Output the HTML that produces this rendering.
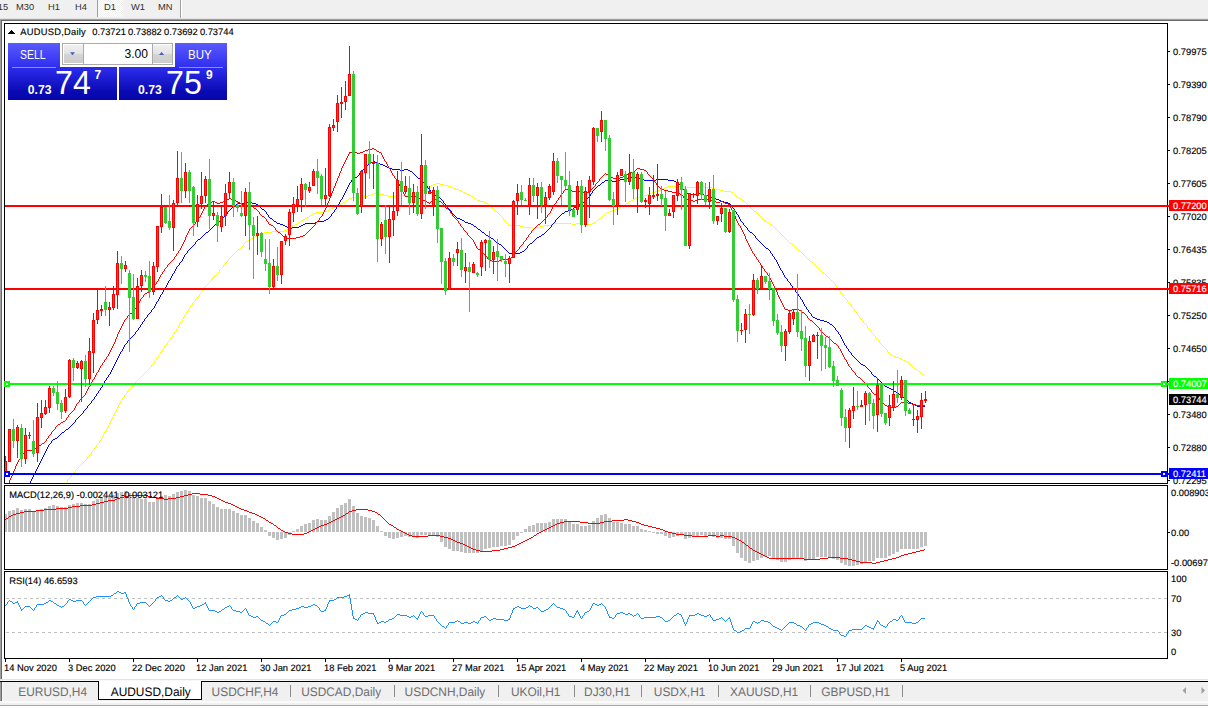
<!DOCTYPE html>
<html><head><meta charset="utf-8">
<style>
html,body{margin:0;padding:0;}
body{width:1208px;height:709px;overflow:hidden;background:#fff;position:relative;font-family:"Liberation Sans",sans-serif;}
.abs{position:absolute;}
#toolbar{left:0;top:0;width:1208px;height:19px;background:#f0f0f0;}
#toolbar span{position:absolute;top:2px;font-size:9.33px;line-height:11px;color:#303030;white-space:nowrap;}
#chartsvg{left:0;top:0;}
svg text{font-family:"Liberation Sans",sans-serif;font-size:9.33px;fill:#000;text-rendering:geometricPrecision;stroke:#000;stroke-width:0.15px;paint-order:stroke;}
.tab{position:absolute;top:684.5px;height:14px;font-size:12.4px;line-height:14px;color:#6e6e6e;white-space:nowrap;transform:scaleX(0.96);text-rendering:geometricPrecision;}
.sep{position:absolute;top:685px;width:1px;height:12px;background:#8c8c8c;}
.obtn{position:absolute;color:#fff;}
</style></head><body>
<div id="toolbar" class="abs">
<span style="left:-10px">M15</span><span style="left:16px">M30</span><span style="left:48px">H1</span><span style="left:75px">H4</span>
<div class="abs" style="left:97px;top:0;width:1px;height:17px;background:#a0a0a0"></div>
<div class="abs" style="left:98px;top:0;width:25px;height:17px;background:repeating-conic-gradient(#ffffff 0 25%,#f0f0f0 0 50%) 0 0/2px 2px"></div>
<span style="left:104px">D1</span><span style="left:131px">W1</span><span style="left:158px">MN</span>
<div class="abs" style="left:180px;top:0;width:1px;height:19px;background:#a0a0a0"></div>
<div class="abs" style="left:181px;top:0;width:1px;height:19px;background:#ffffff"></div>
</div>
<div class="abs" style="left:0;top:18px;width:1208px;height:1px;background:#e3e3e3"></div>
<div class="abs" style="left:0;top:19px;width:1208px;height:1px;background:#a0a0a0"></div>
<div class="abs" style="left:0;top:20px;width:1208px;height:1px;background:#696969"></div>
<div class="abs" style="left:0;top:19px;width:1px;height:660px;background:#a0a0a0"></div>
<div class="abs" style="left:1px;top:20px;width:1px;height:659px;background:#696969"></div>

<svg id="chartsvg" class="abs" width="1208" height="709" viewBox="0 0 1208 709">
<g shape-rendering="crispEdges">
<path transform="translate(0,.5)" d="M436 183h4M433 184h3M440 184h4M431 185h2M444 185h4M429 186h2M448 186h3M668 186h16M700 186h4M428 187h1M451 187h2M665 187h3M684 187h16M704 187h8M426 188h2M453 188h3M663 188h2M712 188h4M424 189h2M456 189h3M660 189h3M716 189h4M421 190h3M459 190h2M657 190h3M720 190h4M420 191h1M461 191h2M655 191h2M724 191h7M418 192h2M463 192h2M652 192h3M731 192h2M373 193h3M412 193h6M465 193h2M649 193h3M733 193h1M371 194h2M376 194h8M408 194h4M467 194h2M647 194h2M734 194h1M368 195h3M384 195h4M396 195h12M469 195h2M644 195h3M735 195h1M364 196h4M388 196h8M471 196h2M640 196h4M736 196h1M352 197h12M473 197h1M637 197h3M737 197h2M349 198h3M474 198h2M635 198h2M739 198h2M348 199h1M476 199h1M633 199h2M741 199h1M346 200h2M477 200h3M631 200h2M742 200h2M345 201h1M480 201h4M629 201h2M744 201h1M343 202h2M484 202h2M628 202h1M745 202h1M341 203h2M486 203h2M626 203h2M746 203h1M339 204h2M488 204h1M625 204h1M747 204h1M337 205h2M489 205h1M623 205h2M748 205h1M335 206h2M490 206h1M621 206h2M749 206h1M333 207h2M491 207h1M619 207h2M750 207h1M331 208h2M492 208h1M617 208h2M751 208h1M329 209h2M493 209h1M615 209h2M752 209h1M327 210h2M494 210h2M612 210h3M753 210h1M324 211h3M496 211h1M609 211h3M754 211h2M316 212h8M497 212h1M607 212h2M756 212h1M313 213h3M498 213h1M605 213h2M757 213h1M312 214h1M499 214h1M604 214h1M758 214h1M310 215h2M500 215h1M603 215h1M759 215h1M309 216h1M501 216h1M602 216h1M760 216h1M307 217h2M502 217h1M601 217h1M761 217h1M305 218h2M503 218h1M600 218h1M762 218h1M303 219h2M503 219h1M598 219h2M763 219h1M301 220h2M504 220h1M597 220h1M764 220h1M300 221h1M505 221h1M596 221h1M765 221h2M298 222h2M506 222h1M594 222h2M767 222h2M297 223h1M507 223h1M553 223h19M576 223h4M592 223h2M769 223h1M295 224h2M508 224h1M551 224h2M572 224h4M580 224h12M770 224h2M293 225h2M509 225h11M544 225h7M772 225h1M292 226h1M520 226h4M540 226h4M773 226h1M290 227h2M524 227h8M536 227h4M774 227h1M289 228h1M532 228h4M775 228h1M287 229h2M776 229h1M284 230h3M777 230h1M272 231h12M778 231h1M264 232h8M779 232h1M261 233h3M780 233h1M259 234h2M781 234h1M257 235h2M782 235h1M255 236h2M783 236h1M253 237h2M784 237h1M251 238h2M785 238h1M249 239h2M786 239h1M248 240h1M787 240h1M246 241h2M788 241h1M245 242h1M789 242h1M244 243h1M790 243h2M243 244h1M792 244h1M243 245h1M793 245h1M242 246h1M794 246h1M241 247h1M795 247h1M240 248h1M796 248h1M238 249h2M797 249h1M237 250h1M798 250h2M236 251h1M800 251h1M235 252h1M801 252h1M234 253h1M802 253h1M233 254h1M803 254h1M232 255h1M804 255h1M231 256h1M805 256h1M230 257h1M806 257h1M229 258h1M807 258h1M228 259h1M808 259h1M227 260h1M809 260h1M227 261h1M810 261h2M226 262h1M812 262h1M225 263h1M813 263h1M224 264h1M814 264h1M223 265h1M815 265h1M223 266h1M816 266h1M222 267h1M817 267h1M221 268h1M818 268h1M220 269h1M819 269h1M219 270h1M820 270h1M219 271h1M821 271h1M218 272h1M822 272h2M217 273h1M824 273h1M216 274h1M825 274h1M215 275h1M826 275h1M214 276h1M827 276h1M213 277h1M828 277h1M212 278h1M829 278h1M211 279h1M830 279h1M211 280h1M831 280h1M210 281h1M832 281h1M209 282h1M833 282h1M208 283h1M834 283h1M207 284h1M835 284h1M206 285h1M835 285h1M205 286h1M836 286h1M204 287h1M837 287h1M204 288h1M838 288h1M203 289h1M838 289h1M202 290h1M839 290h1M202 291h1M840 291h1M201 292h1M840 292h1M200 293h1M841 293h1M199 294h1M842 294h1M199 295h1M843 295h1M198 296h1M843 296h1M197 297h1M844 297h1M196 298h1M845 298h1M195 299h1M846 299h1M195 300h1M847 300h1M194 301h1M847 301h1M193 302h1M848 302h1M192 303h1M849 303h1M192 304h1M850 304h1M191 305h1M851 305h1M190 306h1M851 306h1M190 307h1M852 307h1M189 308h1M853 308h1M188 309h1M854 309h1M188 310h1M854 310h1M187 311h1M855 311h1M186 312h1M856 312h1M186 313h1M856 313h1M185 314h1M857 314h1M184 315h1M858 315h1M184 316h1M859 316h1M183 317h1M859 317h1M183 318h1M860 318h1M182 319h1M861 319h1M182 320h1M862 320h1M181 321h1M863 321h1M180 322h1M863 322h1M180 323h1M864 323h1M179 324h1M865 324h1M179 325h1M866 325h1M178 326h1M867 326h1M178 327h1M867 327h1M177 328h1M868 328h1M176 329h1M869 329h1M176 330h1M870 330h1M175 331h1M871 331h1M174 332h1M871 332h1M174 333h1M872 333h1M173 334h1M873 334h1M172 335h1M874 335h1M172 336h1M875 336h1M171 337h1M875 337h1M170 338h1M876 338h1M170 339h1M877 339h1M169 340h1M878 340h1M168 341h1M879 341h1M167 342h1M879 342h1M167 343h1M880 343h1M166 344h1M881 344h1M165 345h1M882 345h1M164 346h1M883 346h1M164 347h1M884 347h1M163 348h1M885 348h1M162 349h1M886 349h1M162 350h1M887 350h1M161 351h1M887 351h1M160 352h1M888 352h1M160 353h1M889 353h1M159 354h1M890 354h2M158 355h1M892 355h1M158 356h1M893 356h3M157 357h1M896 357h3M156 358h1M899 358h2M156 359h1M901 359h2M155 360h1M903 360h2M154 361h1M905 361h2M154 362h1M907 362h2M153 363h1M909 363h1M152 364h1M910 364h1M151 365h1M911 365h1M151 366h1M912 366h1M150 367h1M913 367h1M149 368h1M914 368h2M148 369h1M916 369h1M147 370h1M917 370h1M146 371h1M918 371h2M145 372h1M920 372h1M144 373h1M921 373h1M143 374h1M922 374h2M142 375h1M924 375h1M141 376h1M140 377h1M139 378h1M138 379h1M137 380h1M136 381h1M135 382h1M135 383h1M134 384h1M133 385h1M132 386h1M131 387h1M130 388h1M129 389h1M128 390h1M127 391h1M127 392h1M126 393h1M125 394h1M124 395h1M124 396h1M123 397h1M122 398h1M122 399h1M121 400h1M120 401h1M120 402h1M119 403h1M119 404h1M118 405h1M118 406h1M117 407h1M117 408h1M116 409h1M116 410h1M115 411h1M115 412h1M114 413h1M114 414h1M113 415h1M113 416h1M112 417h1M112 418h1M111 419h1M111 420h1M110 421h1M110 422h1M109 423h1M109 424h1M108 425h1M108 426h1M107 427h1M107 428h1M106 429h1M106 430h1M105 431h1M104 432h1M104 433h1M103 434h1M103 435h1M102 436h1M102 437h1M101 438h1M101 439h1M100 440h1M99 441h1M99 442h1M98 443h1M97 444h1M96 445h1M96 446h1M95 447h1M94 448h1M94 449h1M93 450h1M92 451h1M91 452h1M91 453h1M90 454h1M89 455h1M88 456h1M87 457h1M87 458h1M86 459h1M85 460h1M84 461h1M83 462h1M82 463h1M81 464h1M80 465h1M79 466h1M78 467h1M77 468h1M76 469h1M75 470h1M75 471h1M74 472h1M73 473h1M72 474h1M71 475h1M71 476h1M70 477h1M69 478h1M68 479h1M67 480h1M67 481h1M66 482h1" fill="none" stroke="#ffff00" stroke-width="1"/>
<path transform="translate(0,.5)" d="M373 161h2M371 162h2M375 162h2M369 163h2M377 163h3M368 164h1M380 164h3M367 165h1M383 165h2M366 166h1M385 166h2M365 167h1M387 167h2M364 168h1M389 168h3M363 169h1M392 169h8M404 169h4M362 170h1M400 170h4M408 170h2M361 171h1M410 171h2M360 172h1M412 172h1M359 173h1M413 173h1M359 174h1M414 174h1M358 175h1M415 175h1M357 176h1M416 176h1M355 177h2M417 177h1M628 177h8M353 178h2M418 178h2M624 178h4M636 178h4M352 179h1M420 179h1M620 179h4M640 179h4M656 179h12M351 180h1M421 180h1M605 180h7M616 180h4M644 180h12M668 180h6M351 181h1M422 181h1M604 181h1M612 181h4M674 181h2M350 182h1M423 182h1M602 182h2M676 182h1M349 183h1M424 183h1M601 183h1M677 183h1M349 184h1M425 184h1M600 184h1M678 184h2M348 185h1M426 185h1M598 185h2M680 185h1M348 186h1M427 186h1M597 186h1M681 186h1M347 187h1M427 187h1M596 187h1M682 187h1M347 188h1M428 188h1M595 188h1M682 188h1M346 189h1M429 189h1M594 189h1M683 189h1M346 190h1M430 190h1M593 190h1M684 190h1M345 191h1M430 191h1M592 191h1M684 191h1M345 192h1M431 192h1M592 192h1M685 192h2M344 193h1M432 193h1M591 193h1M687 193h2M696 193h4M344 194h1M432 194h1M590 194h1M689 194h7M700 194h4M343 195h1M433 195h3M590 195h1M704 195h4M343 196h1M436 196h2M589 196h1M708 196h3M342 197h1M438 197h2M588 197h1M711 197h2M342 198h1M440 198h1M587 198h1M713 198h3M341 199h1M441 199h1M586 199h1M716 199h3M340 200h1M442 200h1M585 200h1M719 200h2M340 201h1M443 201h1M584 201h1M721 201h3M244 202h8M339 202h1M443 202h1M582 202h2M724 202h4M237 203h7M252 203h4M339 203h1M444 203h1M581 203h1M728 203h2M236 204h1M256 204h2M338 204h1M445 204h1M579 204h2M730 204h1M234 205h2M258 205h1M338 205h1M446 205h1M577 205h2M731 205h1M233 206h1M259 206h1M337 206h1M447 206h1M576 206h1M731 206h1M232 207h1M260 207h1M336 207h1M447 207h1M574 207h2M732 207h1M231 208h1M261 208h1M336 208h1M448 208h1M573 208h1M733 208h1M230 209h1M262 209h2M335 209h1M449 209h1M571 209h2M734 209h1M229 210h1M264 210h1M334 210h1M450 210h1M568 210h3M734 210h1M228 211h1M265 211h1M334 211h1M451 211h1M565 211h3M735 211h1M227 212h1M266 212h1M333 212h1M451 212h1M564 212h1M736 212h1M227 213h1M266 213h1M332 213h1M452 213h1M562 213h2M736 213h1M226 214h1M267 214h1M331 214h1M453 214h1M561 214h1M737 214h1M225 215h1M268 215h1M331 215h1M454 215h1M560 215h1M738 215h1M224 216h1M268 216h1M330 216h1M455 216h1M559 216h1M738 216h1M223 217h1M269 217h1M329 217h1M456 217h1M558 217h1M739 217h1M222 218h1M270 218h2M328 218h1M457 218h3M557 218h1M739 218h1M221 219h1M272 219h1M326 219h2M460 219h2M556 219h1M740 219h1M220 220h1M273 220h1M324 220h2M462 220h2M555 220h1M740 220h1M218 221h2M274 221h2M317 221h7M464 221h1M555 221h1M741 221h1M217 222h1M276 222h1M315 222h2M465 222h3M554 222h1M742 222h1M216 223h1M277 223h3M305 223h10M468 223h3M553 223h1M743 223h1M215 224h1M280 224h3M303 224h2M471 224h2M552 224h1M743 224h1M214 225h1M283 225h2M301 225h2M473 225h1M551 225h1M744 225h1M213 226h1M285 226h2M299 226h2M474 226h2M551 226h1M745 226h1M212 227h1M287 227h2M292 227h7M476 227h1M550 227h1M746 227h1M211 228h1M289 228h3M477 228h1M549 228h1M747 228h1M210 229h1M478 229h2M548 229h1M747 229h1M209 230h1M480 230h1M547 230h1M748 230h1M208 231h1M481 231h1M546 231h1M749 231h1M206 232h2M482 232h2M545 232h1M750 232h2M205 233h1M484 233h1M544 233h1M752 233h1M204 234h1M485 234h1M542 234h2M753 234h1M203 235h1M486 235h2M541 235h1M754 235h1M202 236h1M488 236h1M539 236h2M755 236h1M201 237h1M489 237h2M537 237h2M755 237h1M200 238h1M491 238h2M536 238h1M756 238h1M198 239h2M493 239h1M535 239h1M757 239h1M197 240h1M494 240h1M534 240h1M758 240h1M196 241h1M495 241h1M533 241h1M759 241h1M195 242h1M496 242h1M532 242h1M760 242h1M195 243h1M497 243h2M530 243h2M761 243h1M194 244h1M499 244h2M529 244h1M762 244h1M193 245h1M501 245h1M528 245h1M763 245h1M192 246h1M502 246h1M527 246h1M764 246h1M191 247h1M503 247h1M527 247h1M765 247h1M190 248h1M504 248h1M526 248h1M766 248h2M189 249h1M505 249h1M525 249h1M768 249h1M188 250h1M506 250h1M524 250h1M769 250h1M187 251h1M507 251h1M522 251h2M770 251h1M187 252h1M508 252h1M520 252h2M770 252h1M186 253h1M509 253h11M771 253h1M185 254h1M772 254h1M184 255h1M772 255h1M184 256h1M773 256h1M183 257h1M774 257h1M183 258h1M774 258h1M182 259h1M775 259h1M182 260h1M776 260h1M181 261h1M776 261h1M180 262h1M777 262h1M179 263h1M777 263h1M179 264h1M778 264h1M178 265h1M778 265h1M177 266h1M779 266h1M176 267h1M779 267h1M176 268h1M780 268h1M175 269h1M780 269h1M175 270h1M781 270h1M174 271h1M782 271h1M174 272h1M782 272h1M173 273h1M783 273h1M172 274h1M783 274h1M172 275h1M784 275h1M171 276h1M784 276h1M171 277h1M785 277h1M170 278h1M786 278h1M170 279h1M787 279h1M169 280h1M787 280h1M168 281h1M788 281h1M168 282h1M789 282h1M167 283h1M790 283h1M167 284h1M790 284h1M166 285h1M791 285h1M166 286h1M792 286h1M165 287h1M792 287h1M164 288h1M793 288h1M164 289h1M794 289h1M163 290h1M795 290h1M163 291h1M795 291h1M162 292h1M796 292h1M162 293h1M797 293h1M161 294h1M798 294h1M160 295h1M798 295h1M160 296h1M799 296h1M159 297h1M800 297h1M159 298h1M800 298h1M158 299h1M801 299h1M158 300h1M802 300h1M157 301h1M802 301h1M156 302h1M803 302h1M156 303h1M803 303h1M155 304h1M804 304h1M155 305h1M804 305h1M154 306h1M805 306h1M154 307h1M806 307h1M153 308h1M806 308h1M152 309h1M807 309h1M151 310h1M808 310h1M151 311h1M808 311h1M150 312h1M809 312h1M149 313h1M810 313h1M148 314h1M811 314h1M147 315h1M811 315h1M147 316h1M812 316h1M146 317h1M813 317h2M145 318h1M815 318h2M144 319h1M817 319h3M144 320h1M820 320h4M143 321h1M824 321h3M142 322h1M827 322h2M142 323h1M829 323h1M141 324h1M830 324h2M140 325h1M832 325h1M140 326h1M833 326h1M139 327h1M834 327h1M138 328h1M835 328h1M138 329h1M835 329h1M137 330h1M836 330h1M136 331h1M837 331h1M135 332h1M838 332h1M135 333h1M838 333h1M134 334h1M839 334h1M133 335h1M840 335h1M132 336h1M840 336h1M131 337h1M841 337h1M130 338h1M841 338h1M129 339h1M842 339h1M128 340h1M842 340h1M127 341h1M843 341h1M127 342h1M843 342h1M126 343h1M844 343h1M125 344h1M844 344h1M124 345h1M845 345h1M124 346h1M846 346h1M123 347h1M846 347h1M123 348h1M847 348h1M122 349h1M848 349h1M122 350h1M848 350h1M121 351h1M849 351h1M120 352h1M850 352h1M120 353h1M851 353h1M119 354h1M851 354h1M119 355h1M852 355h1M118 356h1M853 356h1M118 357h1M854 357h1M117 358h1M855 358h1M117 359h1M856 359h1M116 360h1M857 360h1M116 361h1M858 361h1M115 362h1M859 362h1M115 363h1M860 363h1M114 364h1M861 364h2M114 365h1M863 365h2M113 366h1M865 366h1M113 367h1M866 367h1M112 368h1M867 368h1M112 369h1M868 369h1M111 370h1M869 370h1M111 371h1M870 371h1M110 372h1M871 372h1M110 373h1M871 373h1M109 374h1M872 374h1M108 375h1M873 375h1M108 376h1M874 376h2M107 377h1M876 377h1M106 378h1M877 378h1M106 379h1M878 379h1M105 380h1M879 380h1M104 381h1M880 381h1M104 382h1M881 382h1M103 383h1M882 383h1M103 384h1M883 384h1M102 385h1M884 385h1M102 386h1M885 386h2M101 387h1M887 387h2M100 388h1M889 388h2M100 389h1M891 389h2M99 390h1M893 390h1M98 391h1M894 391h2M98 392h1M896 392h1M97 393h1M897 393h2M96 394h1M899 394h2M96 395h1M901 395h1M95 396h1M902 396h1M94 397h1M903 397h1M94 398h1M904 398h1M93 399h1M905 399h1M92 400h1M906 400h2M91 401h1M908 401h1M91 402h1M909 402h2M90 403h1M911 403h2M89 404h1M913 404h2M88 405h1M915 405h2M87 406h1M917 406h8M87 407h1M86 408h1M85 409h1M84 410h1M83 411h1M83 412h1M82 413h1M81 414h1M80 415h1M79 416h1M78 417h1M77 418h1M76 419h1M75 420h1M75 421h1M74 422h1M73 423h1M72 424h1M71 425h1M70 426h1M69 427h1M68 428h1M66 429h2M65 430h1M64 431h1M62 432h2M61 433h1M60 434h1M59 435h1M58 436h1M57 437h1M55 438h2M53 439h2M52 440h1M51 441h1M51 442h1M50 443h1M49 444h1M48 445h1M48 446h1M47 447h1M47 448h1M46 449h1M46 450h1M45 451h1M45 452h1M44 453h1M44 454h1M43 455h1M43 456h1M42 457h1M42 458h1M41 459h1M41 460h1M40 461h1M40 462h1M39 463h1M39 464h1M38 465h1M38 466h1M37 467h1M37 468h1M36 469h1M36 470h1M35 471h1M35 472h1M34 473h1M34 474h1M33 475h1M33 476h1M32 477h1M32 478h1M31 479h1M31 480h1M30 481h1M30 482h1" fill="none" stroke="#0000ff" stroke-width="1"/>
<path transform="translate(0,.5)" d="M372 148h2M368 149h4M374 149h2M365 150h3M376 150h1M352 151h3M363 151h2M377 151h2M349 152h3M355 152h2M360 152h3M379 152h2M349 153h1M357 153h3M381 153h1M348 154h1M381 154h1M348 155h1M382 155h1M347 156h1M382 156h1M347 157h1M383 157h1M346 158h1M383 158h1M346 159h1M384 159h1M345 160h1M384 160h1M345 161h1M385 161h1M344 162h1M386 162h1M344 163h1M386 163h1M343 164h1M387 164h1M343 165h1M387 165h1M342 166h1M388 166h1M342 167h1M388 167h1M341 168h1M389 168h1M637 168h3M341 169h1M390 169h1M636 169h1M640 169h4M341 170h1M390 170h1M635 170h1M644 170h2M340 171h1M391 171h1M634 171h1M646 171h1M340 172h1M391 172h1M629 172h5M647 172h1M339 173h1M392 173h1M605 173h1M628 173h1M647 173h1M339 174h1M392 174h1M604 174h1M606 174h2M626 174h2M648 174h1M339 175h1M393 175h1M603 175h1M608 175h1M625 175h1M649 175h1M338 176h1M394 176h1M602 176h1M609 176h2M623 176h2M650 176h1M338 177h1M394 177h1M601 177h1M611 177h2M620 177h3M651 177h1M337 178h1M395 178h1M600 178h1M613 178h7M652 178h1M337 179h1M396 179h1M599 179h1M653 179h1M337 180h1M396 180h1M599 180h1M654 180h1M336 181h1M397 181h1M598 181h1M654 181h1M336 182h1M398 182h1M597 182h1M655 182h1M335 183h1M398 183h1M596 183h1M656 183h1M335 184h1M399 184h1M595 184h1M656 184h1M335 185h1M399 185h1M595 185h1M657 185h1M334 186h1M400 186h1M594 186h1M658 186h1M334 187h1M400 187h1M593 187h1M659 187h1M333 188h1M401 188h1M592 188h1M660 188h1M333 189h1M401 189h1M565 189h3M591 189h1M661 189h3M333 190h1M402 190h1M564 190h1M568 190h4M576 190h3M590 190h1M664 190h4M332 191h1M402 191h1M563 191h1M572 191h4M579 191h2M589 191h1M668 191h4M332 192h1M403 192h1M563 192h1M581 192h3M587 192h2M672 192h4M331 193h1M403 193h1M562 193h1M584 193h3M676 193h4M331 194h1M404 194h1M561 194h1M680 194h2M331 195h1M404 195h1M412 195h2M560 195h1M682 195h1M330 196h1M405 196h7M414 196h2M560 196h1M683 196h1M330 197h1M416 197h1M559 197h1M683 197h1M229 198h2M329 198h1M417 198h3M558 198h1M684 198h1M227 199h2M231 199h2M329 199h1M420 199h3M433 199h3M558 199h1M685 199h6M697 199h14M225 200h2M233 200h3M329 200h1M423 200h2M432 200h1M436 200h3M557 200h1M691 200h2M695 200h2M711 200h2M212 201h3M223 201h2M236 201h2M328 201h1M425 201h2M431 201h1M439 201h2M556 201h1M693 201h2M713 201h3M720 201h3M209 202h3M215 202h2M220 202h3M238 202h2M328 202h1M427 202h2M430 202h1M441 202h1M556 202h1M716 202h4M723 202h2M208 203h1M217 203h3M240 203h1M327 203h1M429 203h1M442 203h1M555 203h1M725 203h3M207 204h1M241 204h3M327 204h1M443 204h1M554 204h1M728 204h2M206 205h1M244 205h7M327 205h1M443 205h1M554 205h1M729 205h1M205 206h1M251 206h2M326 206h1M444 206h1M553 206h1M730 206h1M204 207h1M253 207h1M326 207h1M445 207h1M552 207h1M730 207h1M204 208h1M254 208h2M325 208h1M446 208h2M552 208h1M731 208h1M203 209h1M256 209h1M325 209h1M448 209h1M551 209h1M731 209h1M203 210h1M257 210h1M324 210h1M449 210h1M551 210h1M732 210h1M202 211h1M258 211h1M324 211h1M450 211h1M550 211h1M732 211h1M202 212h1M259 212h1M323 212h1M450 212h1M550 212h1M733 212h1M201 213h1M259 213h1M323 213h1M451 213h1M549 213h1M733 213h1M201 214h1M260 214h1M322 214h1M452 214h1M548 214h1M734 214h1M200 215h1M261 215h1M322 215h1M452 215h1M547 215h1M734 215h1M200 216h1M262 216h2M321 216h1M453 216h1M547 216h1M735 216h1M199 217h1M264 217h1M320 217h1M454 217h1M546 217h1M735 217h1M198 218h1M265 218h1M319 218h1M455 218h1M545 218h1M735 218h1M198 219h1M266 219h1M319 219h1M456 219h1M544 219h1M736 219h1M197 220h1M266 220h1M318 220h1M457 220h1M543 220h1M736 220h1M196 221h1M267 221h1M317 221h1M458 221h1M542 221h1M737 221h1M195 222h1M268 222h1M316 222h1M458 222h1M541 222h1M737 222h1M195 223h1M268 223h1M315 223h1M459 223h1M540 223h1M738 223h1M194 224h1M269 224h2M315 224h1M460 224h1M538 224h2M738 224h1M193 225h1M271 225h2M314 225h1M460 225h1M537 225h1M739 225h1M192 226h1M273 226h1M313 226h1M461 226h1M536 226h1M740 226h1M191 227h1M274 227h1M312 227h1M462 227h1M535 227h1M740 227h1M190 228h1M275 228h1M311 228h1M463 228h1M534 228h1M741 228h1M189 229h1M275 229h1M310 229h1M463 229h1M533 229h1M741 229h1M189 230h1M276 230h1M309 230h1M464 230h1M532 230h1M742 230h1M188 231h1M277 231h1M308 231h1M465 231h1M531 231h1M742 231h1M188 232h1M278 232h2M307 232h1M466 232h1M531 232h1M743 232h1M187 233h1M280 233h1M306 233h1M467 233h1M530 233h1M743 233h1M187 234h1M281 234h1M305 234h1M467 234h1M529 234h1M744 234h1M186 235h1M282 235h1M303 235h2M468 235h1M528 235h1M744 235h1M186 236h1M283 236h1M300 236h3M469 236h1M528 236h1M745 236h1M185 237h1M284 237h1M296 237h4M470 237h1M527 237h1M745 237h1M185 238h1M285 238h11M471 238h1M526 238h1M745 238h1M185 239h1M472 239h1M526 239h1M746 239h1M184 240h1M473 240h1M525 240h1M746 240h1M184 241h1M473 241h1M524 241h1M747 241h1M183 242h1M474 242h1M523 242h1M747 242h1M183 243h1M474 243h1M523 243h1M748 243h1M182 244h1M475 244h1M522 244h1M748 244h1M182 245h1M475 245h1M521 245h1M749 245h1M181 246h1M476 246h1M520 246h1M749 246h1M181 247h1M476 247h1M519 247h1M750 247h1M180 248h1M477 248h1M519 248h1M750 248h1M180 249h1M478 249h2M518 249h1M751 249h1M179 250h1M480 250h1M517 250h1M751 250h1M178 251h1M481 251h1M516 251h1M752 251h1M178 252h1M482 252h1M515 252h1M752 252h1M177 253h1M483 253h1M515 253h1M753 253h1M176 254h1M484 254h1M514 254h1M754 254h1M176 255h1M485 255h1M513 255h1M754 255h1M175 256h1M486 256h1M512 256h1M755 256h1M174 257h1M487 257h1M511 257h1M756 257h1M174 258h1M487 258h1M510 258h1M756 258h1M173 259h1M488 259h1M501 259h9M757 259h1M172 260h1M489 260h3M499 260h2M758 260h1M171 261h1M492 261h7M758 261h1M170 262h1M759 262h1M169 263h1M760 263h1M168 264h1M760 264h1M167 265h1M761 265h1M167 266h1M762 266h1M166 267h1M762 267h1M165 268h1M763 268h1M164 269h1M764 269h1M164 270h1M764 270h1M163 271h1M765 271h1M162 272h1M766 272h1M162 273h1M767 273h1M161 274h1M767 274h1M160 275h1M768 275h1M160 276h1M769 276h1M159 277h1M769 277h1M159 278h1M770 278h1M158 279h1M770 279h1M158 280h1M771 280h1M157 281h1M771 281h1M156 282h1M772 282h1M156 283h1M772 283h1M155 284h1M773 284h1M154 285h1M773 285h1M154 286h1M774 286h1M153 287h1M774 287h1M152 288h1M775 288h1M151 289h1M775 289h1M150 290h1M776 290h1M149 291h1M776 291h1M147 292h2M777 292h1M145 293h2M777 293h1M144 294h1M777 294h1M143 295h1M778 295h1M143 296h1M778 296h1M142 297h1M779 297h1M141 298h1M779 298h1M140 299h1M780 299h1M140 300h1M780 300h1M139 301h1M781 301h1M139 302h1M781 302h1M138 303h1M782 303h1M138 304h1M782 304h1M137 305h1M783 305h1M136 306h1M783 306h1M136 307h1M784 307h1M135 308h1M784 308h1M134 309h1M785 309h3M792 309h7M134 310h1M788 310h4M799 310h2M133 311h1M801 311h1M132 312h1M802 312h2M130 313h2M804 313h1M129 314h1M805 314h1M128 315h1M806 315h1M127 316h1M807 316h1M127 317h1M807 317h1M126 318h1M808 318h1M125 319h1M809 319h1M124 320h1M810 320h2M124 321h1M812 321h1M123 322h1M813 322h1M123 323h1M814 323h1M122 324h1M815 324h1M122 325h1M816 325h1M121 326h1M817 326h1M121 327h1M818 327h1M120 328h1M819 328h1M120 329h1M819 329h1M119 330h1M820 330h1M119 331h1M821 331h1M118 332h1M822 332h1M118 333h1M823 333h1M117 334h1M824 334h1M117 335h1M825 335h1M117 336h1M826 336h2M116 337h1M828 337h1M116 338h1M829 338h1M115 339h1M830 339h1M115 340h1M831 340h1M115 341h1M832 341h1M114 342h1M833 342h1M114 343h1M834 343h2M113 344h1M836 344h1M113 345h1M837 345h1M112 346h1M838 346h1M112 347h1M838 347h1M111 348h1M839 348h1M111 349h1M840 349h1M110 350h1M840 350h1M110 351h1M841 351h1M109 352h1M841 352h1M109 353h1M842 353h1M108 354h1M842 354h1M108 355h1M843 355h1M107 356h1M843 356h1M106 357h1M844 357h1M106 358h1M844 358h1M105 359h1M845 359h1M104 360h1M846 360h1M104 361h1M846 361h1M103 362h1M847 362h1M102 363h1M847 363h1M102 364h1M848 364h1M101 365h1M848 365h1M100 366h1M849 366h1M100 367h1M850 367h1M99 368h1M851 368h1M99 369h1M851 369h1M98 370h1M852 370h1M98 371h1M853 371h1M97 372h1M854 372h1M96 373h1M855 373h1M96 374h1M855 374h1M95 375h1M856 375h1M95 376h1M857 376h1M94 377h1M858 377h2M94 378h1M860 378h1M93 379h1M861 379h1M92 380h1M862 380h1M92 381h1M863 381h1M91 382h1M864 382h1M91 383h1M865 383h1M90 384h1M866 384h1M90 385h1M867 385h1M89 386h1M867 386h1M88 387h1M868 387h1M88 388h1M869 388h1M87 389h1M870 389h1M87 390h1M871 390h1M86 391h1M871 391h1M86 392h1M872 392h1M85 393h1M873 393h1M85 394h1M874 394h2M84 395h1M876 395h1M83 396h1M877 396h1M82 397h1M878 397h1M81 398h1M879 398h1M80 399h1M879 399h1M79 400h1M880 400h1M79 401h1M881 401h1M78 402h1M882 402h1M901 402h7M77 403h1M883 403h1M900 403h1M908 403h4M76 404h1M884 404h1M899 404h1M912 404h4M76 405h1M885 405h2M898 405h1M916 405h9M75 406h1M887 406h2M896 406h2M75 407h1M889 407h7M74 408h1M74 409h1M73 410h1M72 411h1M71 412h1M70 413h1M69 414h1M68 415h1M68 416h1M67 417h1M66 418h1M66 419h1M65 420h1M63 421h2M61 422h2M60 423h1M58 424h2M57 425h1M56 426h1M55 427h1M55 428h1M54 429h1M53 430h1M52 431h1M51 432h1M51 433h1M50 434h1M49 435h1M48 436h1M48 437h1M47 438h1M46 439h1M46 440h1M45 441h1M44 442h1M42 443h2M41 444h1M39 445h2M37 446h2M36 447h1M34 448h2M32 449h2M25 450h7M24 451h1M24 452h1M23 453h1M22 454h1M22 455h1M21 456h1M20 457h1M20 458h1M19 459h1M18 460h1M18 461h1M17 462h1M17 463h1M16 464h1M16 465h1M15 466h1M15 467h1M15 468h1M14 469h1M14 470h1M13 471h1M13 472h1M13 473h1M12 474h1M12 475h1M11 476h1M11 477h1M10 478h1M10 479h1M9 480h1M9 481h1M9 482h1" fill="none" stroke="#ff0000" stroke-width="1"/>
<g fill="#c0c0c0"><rect x="5" y="514" width="2" height="18"/><rect x="8" y="511" width="3" height="21"/><rect x="12" y="510" width="3" height="22"/><rect x="16" y="508" width="3" height="24"/><rect x="20" y="510" width="3" height="22"/><rect x="24" y="509" width="3" height="23"/><rect x="28" y="509" width="3" height="23"/><rect x="32" y="511" width="3" height="21"/><rect x="36" y="510" width="3" height="22"/><rect x="40" y="509" width="3" height="23"/><rect x="44" y="508" width="3" height="24"/><rect x="48" y="506" width="3" height="26"/><rect x="52" y="505" width="3" height="27"/><rect x="56" y="506" width="3" height="26"/><rect x="60" y="507" width="3" height="25"/><rect x="64" y="507" width="3" height="25"/><rect x="68" y="505" width="3" height="27"/><rect x="72" y="504" width="3" height="28"/><rect x="76" y="503" width="3" height="29"/><rect x="80" y="503" width="3" height="29"/><rect x="84" y="504" width="3" height="28"/><rect x="88" y="504" width="3" height="28"/><rect x="92" y="501" width="3" height="31"/><rect x="96" y="499" width="3" height="33"/><rect x="100" y="497" width="3" height="35"/><rect x="104" y="497" width="3" height="35"/><rect x="108" y="496" width="3" height="36"/><rect x="112" y="495" width="3" height="37"/><rect x="116" y="493" width="3" height="39"/><rect x="120" y="492" width="3" height="40"/><rect x="124" y="491" width="3" height="41"/><rect x="128" y="493" width="3" height="39"/><rect x="132" y="497" width="3" height="35"/><rect x="136" y="498" width="3" height="34"/><rect x="140" y="499" width="3" height="33"/><rect x="144" y="499" width="3" height="33"/><rect x="148" y="502" width="3" height="30"/><rect x="152" y="502" width="3" height="30"/><rect x="156" y="499" width="3" height="33"/><rect x="160" y="496" width="3" height="36"/><rect x="164" y="495" width="3" height="37"/><rect x="168" y="496" width="3" height="36"/><rect x="172" y="494" width="3" height="38"/><rect x="176" y="492" width="3" height="40"/><rect x="180" y="491" width="3" height="41"/><rect x="184" y="490" width="3" height="42"/><rect x="188" y="491" width="3" height="41"/><rect x="192" y="495" width="3" height="37"/><rect x="196" y="496" width="3" height="36"/><rect x="200" y="498" width="3" height="34"/><rect x="204" y="498" width="3" height="34"/><rect x="208" y="501" width="3" height="31"/><rect x="212" y="504" width="3" height="28"/><rect x="216" y="507" width="3" height="25"/><rect x="220" y="509" width="3" height="23"/><rect x="224" y="509" width="3" height="23"/><rect x="228" y="509" width="3" height="23"/><rect x="232" y="511" width="3" height="21"/><rect x="236" y="513" width="3" height="19"/><rect x="240" y="515" width="3" height="17"/><rect x="244" y="515" width="3" height="17"/><rect x="248" y="518" width="3" height="14"/><rect x="252" y="521" width="3" height="11"/><rect x="256" y="523" width="3" height="9"/><rect x="260" y="527" width="3" height="5"/><rect x="264" y="530" width="3" height="2"/><rect x="268" y="532" width="3" height="4"/><rect x="272" y="532" width="3" height="6"/><rect x="276" y="532" width="3" height="8"/><rect x="280" y="532" width="3" height="7"/><rect x="284" y="532" width="3" height="6"/><rect x="288" y="532" width="3" height="3"/><rect x="292" y="531" width="3" height="1"/><rect x="296" y="529" width="3" height="3"/><rect x="300" y="526" width="3" height="6"/><rect x="304" y="524" width="3" height="8"/><rect x="308" y="523" width="3" height="9"/><rect x="312" y="520" width="3" height="12"/><rect x="316" y="519" width="3" height="13"/><rect x="320" y="520" width="3" height="12"/><rect x="324" y="520" width="3" height="12"/><rect x="328" y="516" width="3" height="16"/><rect x="332" y="512" width="3" height="20"/><rect x="336" y="508" width="3" height="24"/><rect x="340" y="505" width="3" height="27"/><rect x="344" y="503" width="3" height="29"/><rect x="348" y="499" width="3" height="33"/><rect x="352" y="506" width="3" height="26"/><rect x="356" y="513" width="3" height="19"/><rect x="360" y="516" width="3" height="16"/><rect x="364" y="517" width="3" height="15"/><rect x="368" y="518" width="3" height="14"/><rect x="372" y="520" width="3" height="12"/><rect x="376" y="526" width="3" height="6"/><rect x="380" y="531" width="3" height="1"/><rect x="384" y="532" width="3" height="4"/><rect x="388" y="532" width="3" height="6"/><rect x="392" y="532" width="3" height="7"/><rect x="396" y="532" width="3" height="6"/><rect x="400" y="532" width="3" height="5"/><rect x="404" y="532" width="3" height="4"/><rect x="408" y="532" width="3" height="5"/><rect x="412" y="532" width="3" height="5"/><rect x="416" y="532" width="3" height="6"/><rect x="420" y="532" width="3" height="3"/><rect x="424" y="532" width="3" height="3"/><rect x="428" y="532" width="3" height="3"/><rect x="432" y="532" width="3" height="3"/><rect x="436" y="532" width="3" height="5"/><rect x="440" y="532" width="3" height="10"/><rect x="444" y="532" width="3" height="15"/><rect x="448" y="532" width="3" height="17"/><rect x="452" y="532" width="3" height="19"/><rect x="456" y="532" width="3" height="19"/><rect x="460" y="532" width="3" height="20"/><rect x="464" y="532" width="3" height="21"/><rect x="468" y="532" width="3" height="21"/><rect x="472" y="532" width="3" height="21"/><rect x="476" y="532" width="3" height="21"/><rect x="480" y="532" width="3" height="19"/><rect x="484" y="532" width="3" height="17"/><rect x="488" y="532" width="3" height="16"/><rect x="492" y="532" width="3" height="15"/><rect x="496" y="532" width="3" height="15"/><rect x="500" y="532" width="3" height="14"/><rect x="504" y="532" width="3" height="14"/><rect x="508" y="532" width="3" height="13"/><rect x="512" y="532" width="3" height="8"/><rect x="516" y="532" width="3" height="4"/><rect x="520" y="532" width="3" height="1"/><rect x="524" y="529" width="3" height="3"/><rect x="528" y="526" width="3" height="6"/><rect x="532" y="525" width="3" height="7"/><rect x="536" y="523" width="3" height="9"/><rect x="540" y="523" width="3" height="9"/><rect x="544" y="523" width="3" height="9"/><rect x="548" y="522" width="3" height="10"/><rect x="552" y="519" width="3" height="13"/><rect x="556" y="519" width="3" height="13"/><rect x="560" y="519" width="3" height="13"/><rect x="564" y="519" width="3" height="13"/><rect x="568" y="521" width="3" height="11"/><rect x="572" y="524" width="3" height="8"/><rect x="576" y="524" width="3" height="8"/><rect x="580" y="526" width="3" height="6"/><rect x="584" y="526" width="3" height="6"/><rect x="588" y="525" width="3" height="7"/><rect x="592" y="521" width="3" height="11"/><rect x="596" y="518" width="3" height="14"/><rect x="600" y="515" width="3" height="17"/><rect x="604" y="514" width="3" height="18"/><rect x="608" y="518" width="3" height="14"/><rect x="612" y="522" width="3" height="10"/><rect x="616" y="522" width="3" height="10"/><rect x="620" y="523" width="3" height="9"/><rect x="624" y="524" width="3" height="8"/><rect x="628" y="524" width="3" height="8"/><rect x="632" y="526" width="3" height="6"/><rect x="636" y="526" width="3" height="6"/><rect x="640" y="529" width="3" height="3"/><rect x="644" y="530" width="3" height="2"/><rect x="648" y="531" width="3" height="1"/><rect x="652" y="532" width="3" height="1"/><rect x="656" y="532" width="3" height="2"/><rect x="660" y="532" width="3" height="2"/><rect x="664" y="532" width="3" height="4"/><rect x="668" y="532" width="3" height="6"/><rect x="672" y="532" width="3" height="5"/><rect x="676" y="532" width="3" height="4"/><rect x="680" y="532" width="3" height="3"/><rect x="684" y="532" width="3" height="7"/><rect x="688" y="532" width="3" height="6"/><rect x="692" y="532" width="3" height="5"/><rect x="696" y="532" width="3" height="4"/><rect x="700" y="532" width="3" height="3"/><rect x="704" y="532" width="3" height="4"/><rect x="708" y="532" width="3" height="3"/><rect x="712" y="532" width="3" height="5"/><rect x="716" y="532" width="3" height="6"/><rect x="720" y="532" width="3" height="6"/><rect x="724" y="532" width="3" height="7"/><rect x="728" y="532" width="3" height="7"/><rect x="732" y="532" width="3" height="14"/><rect x="736" y="532" width="3" height="21"/><rect x="740" y="532" width="3" height="26"/><rect x="744" y="532" width="3" height="29"/><rect x="748" y="532" width="3" height="31"/><rect x="752" y="532" width="3" height="29"/><rect x="756" y="532" width="3" height="28"/><rect x="760" y="532" width="3" height="26"/><rect x="764" y="532" width="3" height="25"/><rect x="768" y="532" width="3" height="24"/><rect x="772" y="532" width="3" height="26"/><rect x="776" y="532" width="3" height="28"/><rect x="780" y="532" width="3" height="30"/><rect x="784" y="532" width="3" height="30"/><rect x="788" y="532" width="3" height="28"/><rect x="792" y="532" width="3" height="27"/><rect x="796" y="532" width="3" height="27"/><rect x="800" y="532" width="3" height="27"/><rect x="804" y="532" width="3" height="29"/><rect x="808" y="532" width="3" height="28"/><rect x="812" y="532" width="3" height="27"/><rect x="816" y="532" width="3" height="25"/><rect x="820" y="532" width="3" height="25"/><rect x="824" y="532" width="3" height="25"/><rect x="828" y="532" width="3" height="25"/><rect x="832" y="532" width="3" height="27"/><rect x="836" y="532" width="3" height="28"/><rect x="840" y="532" width="3" height="31"/><rect x="844" y="532" width="3" height="33"/><rect x="848" y="532" width="3" height="34"/><rect x="852" y="532" width="3" height="34"/><rect x="856" y="532" width="3" height="33"/><rect x="860" y="532" width="3" height="32"/><rect x="864" y="532" width="3" height="30"/><rect x="868" y="532" width="3" height="29"/><rect x="872" y="532" width="3" height="29"/><rect x="876" y="532" width="3" height="26"/><rect x="880" y="532" width="3" height="26"/><rect x="884" y="532" width="3" height="26"/><rect x="888" y="532" width="3" height="24"/><rect x="892" y="532" width="3" height="22"/><rect x="896" y="532" width="3" height="20"/><rect x="900" y="532" width="3" height="17"/><rect x="904" y="532" width="3" height="17"/><rect x="908" y="532" width="3" height="17"/><rect x="912" y="532" width="3" height="17"/><rect x="916" y="532" width="3" height="17"/><rect x="920" y="532" width="3" height="15"/><rect x="924" y="532" width="3" height="14"/></g>
<!-- frames -->
<rect x="4.5" y="23.5" width="1163" height="460" fill="none" stroke="#000"/>
<rect x="4.5" y="485.5" width="1163" height="84" fill="none" stroke="#000"/>
<rect x="4.5" y="571.5" width="1163" height="87" fill="none" stroke="#000"/>
<!-- rsi levels -->
<line x1="6" y1="598.5" x2="1167" y2="598.5" stroke="#c0c0c0" stroke-dasharray="3,3"/>
<line x1="6" y1="632.5" x2="1167" y2="632.5" stroke="#c0c0c0" stroke-dasharray="3,3"/>
<!-- horizontal lines -->
<rect x="5" y="205" width="1164" height="2" fill="#ff0000"/>
<rect x="5" y="288" width="1164" height="2" fill="#ff0000"/>
<rect x="5" y="383" width="1164" height="2" fill="#00ff00"/>
<rect x="5" y="473" width="1164" height="2" fill="#0000ff"/>
<rect x="5" y="456" width="1" height="18" fill="#ff0000"/>
<rect x="5" y="461" width="2" height="11" fill="#ff0000"/>
<rect x="5" y="462" width="1" height="9" fill="#ff4500"/>
<rect x="9" y="429" width="1" height="33" fill="#ff0000"/>
<rect x="8" y="429" width="3" height="33" fill="#ff0000"/>
<rect x="9" y="430" width="1" height="31" fill="#ff4500"/>
<rect x="13" y="419" width="1" height="29" fill="#32cd32"/>
<rect x="12" y="429" width="3" height="12" fill="#32cd32"/>
<rect x="17" y="425" width="1" height="33" fill="#ff0000"/>
<rect x="16" y="427" width="3" height="14" fill="#ff0000"/>
<rect x="17" y="428" width="1" height="12" fill="#ff4500"/>
<rect x="21" y="424" width="1" height="43" fill="#32cd32"/>
<rect x="20" y="428" width="3" height="31" fill="#32cd32"/>
<rect x="25" y="428" width="1" height="36" fill="#ff0000"/>
<rect x="24" y="435" width="3" height="24" fill="#ff0000"/>
<rect x="25" y="436" width="1" height="22" fill="#ff4500"/>
<rect x="29" y="432" width="1" height="7" fill="#ff0000"/>
<rect x="28" y="435" width="3" height="1" fill="#ff0000"/>
<rect x="33" y="420" width="1" height="37" fill="#32cd32"/>
<rect x="32" y="441" width="3" height="13" fill="#32cd32"/>
<rect x="37" y="403" width="1" height="59" fill="#ff0000"/>
<rect x="36" y="417" width="3" height="36" fill="#ff0000"/>
<rect x="37" y="418" width="1" height="34" fill="#ff4500"/>
<rect x="41" y="400" width="1" height="28" fill="#ff0000"/>
<rect x="40" y="413" width="3" height="5" fill="#ff0000"/>
<rect x="41" y="414" width="1" height="3" fill="#ff4500"/>
<rect x="45" y="400" width="1" height="15" fill="#ff0000"/>
<rect x="44" y="407" width="3" height="7" fill="#ff0000"/>
<rect x="45" y="408" width="1" height="5" fill="#ff4500"/>
<rect x="49" y="386" width="1" height="27" fill="#ff0000"/>
<rect x="48" y="388" width="3" height="20" fill="#ff0000"/>
<rect x="49" y="389" width="1" height="18" fill="#ff4500"/>
<rect x="53" y="386" width="1" height="10" fill="#32cd32"/>
<rect x="52" y="388" width="3" height="5" fill="#32cd32"/>
<rect x="57" y="381" width="1" height="29" fill="#32cd32"/>
<rect x="56" y="392" width="3" height="12" fill="#32cd32"/>
<rect x="61" y="400" width="1" height="19" fill="#32cd32"/>
<rect x="60" y="403" width="3" height="9" fill="#32cd32"/>
<rect x="65" y="389" width="1" height="24" fill="#ff0000"/>
<rect x="64" y="397" width="3" height="14" fill="#ff0000"/>
<rect x="65" y="398" width="1" height="12" fill="#ff4500"/>
<rect x="69" y="359" width="1" height="39" fill="#ff0000"/>
<rect x="68" y="360" width="3" height="37" fill="#ff0000"/>
<rect x="69" y="361" width="1" height="35" fill="#ff4500"/>
<rect x="73" y="358" width="1" height="23" fill="#32cd32"/>
<rect x="72" y="360" width="3" height="8" fill="#32cd32"/>
<rect x="77" y="361" width="1" height="8" fill="#ff0000"/>
<rect x="76" y="363" width="3" height="5" fill="#ff0000"/>
<rect x="77" y="364" width="1" height="3" fill="#ff4500"/>
<rect x="81" y="360" width="1" height="42" fill="#ff0000"/>
<rect x="80" y="361" width="3" height="8" fill="#ff0000"/>
<rect x="81" y="362" width="1" height="6" fill="#ff4500"/>
<rect x="85" y="355" width="1" height="32" fill="#32cd32"/>
<rect x="84" y="361" width="3" height="18" fill="#32cd32"/>
<rect x="89" y="338" width="1" height="47" fill="#ff0000"/>
<rect x="88" y="351" width="3" height="28" fill="#ff0000"/>
<rect x="89" y="352" width="1" height="26" fill="#ff4500"/>
<rect x="93" y="313" width="1" height="60" fill="#ff0000"/>
<rect x="92" y="320" width="3" height="33" fill="#ff0000"/>
<rect x="93" y="321" width="1" height="31" fill="#ff4500"/>
<rect x="97" y="289" width="1" height="35" fill="#ff0000"/>
<rect x="96" y="310" width="3" height="10" fill="#ff0000"/>
<rect x="97" y="311" width="1" height="8" fill="#ff4500"/>
<rect x="101" y="305" width="1" height="11" fill="#ff0000"/>
<rect x="100" y="309" width="3" height="2" fill="#ff0000"/>
<rect x="105" y="286" width="1" height="30" fill="#32cd32"/>
<rect x="104" y="302" width="3" height="8" fill="#32cd32"/>
<rect x="109" y="302" width="1" height="24" fill="#ff0000"/>
<rect x="108" y="307" width="3" height="3" fill="#ff0000"/>
<rect x="109" y="308" width="1" height="1" fill="#ff4500"/>
<rect x="113" y="286" width="1" height="24" fill="#ff0000"/>
<rect x="112" y="294" width="3" height="14" fill="#ff0000"/>
<rect x="113" y="295" width="1" height="12" fill="#ff4500"/>
<rect x="117" y="251" width="1" height="58" fill="#ff0000"/>
<rect x="116" y="263" width="3" height="32" fill="#ff0000"/>
<rect x="117" y="264" width="1" height="30" fill="#ff4500"/>
<rect x="121" y="256" width="1" height="28" fill="#32cd32"/>
<rect x="120" y="263" width="3" height="6" fill="#32cd32"/>
<rect x="125" y="261" width="1" height="11" fill="#ff0000"/>
<rect x="124" y="265" width="3" height="4" fill="#ff0000"/>
<rect x="125" y="266" width="1" height="2" fill="#ff4500"/>
<rect x="129" y="270" width="1" height="82" fill="#32cd32"/>
<rect x="128" y="273" width="3" height="25" fill="#32cd32"/>
<rect x="133" y="274" width="1" height="46" fill="#32cd32"/>
<rect x="132" y="297" width="3" height="22" fill="#32cd32"/>
<rect x="137" y="278" width="1" height="41" fill="#ff0000"/>
<rect x="136" y="286" width="3" height="33" fill="#ff0000"/>
<rect x="137" y="287" width="1" height="31" fill="#ff4500"/>
<rect x="141" y="270" width="1" height="22" fill="#ff0000"/>
<rect x="140" y="275" width="3" height="11" fill="#ff0000"/>
<rect x="141" y="276" width="1" height="9" fill="#ff4500"/>
<rect x="145" y="271" width="1" height="11" fill="#32cd32"/>
<rect x="144" y="275" width="3" height="2" fill="#32cd32"/>
<rect x="149" y="261" width="1" height="37" fill="#32cd32"/>
<rect x="148" y="276" width="3" height="16" fill="#32cd32"/>
<rect x="153" y="262" width="1" height="33" fill="#ff0000"/>
<rect x="152" y="266" width="3" height="26" fill="#ff0000"/>
<rect x="153" y="267" width="1" height="24" fill="#ff4500"/>
<rect x="157" y="226" width="1" height="46" fill="#ff0000"/>
<rect x="156" y="226" width="3" height="41" fill="#ff0000"/>
<rect x="157" y="227" width="1" height="39" fill="#ff4500"/>
<rect x="161" y="194" width="1" height="39" fill="#ff0000"/>
<rect x="160" y="207" width="3" height="20" fill="#ff0000"/>
<rect x="161" y="208" width="1" height="18" fill="#ff4500"/>
<rect x="165" y="207" width="1" height="17" fill="#32cd32"/>
<rect x="164" y="207" width="3" height="16" fill="#32cd32"/>
<rect x="169" y="195" width="1" height="35" fill="#32cd32"/>
<rect x="168" y="221" width="3" height="7" fill="#32cd32"/>
<rect x="173" y="200" width="1" height="51" fill="#ff0000"/>
<rect x="172" y="203" width="3" height="25" fill="#ff0000"/>
<rect x="173" y="204" width="1" height="23" fill="#ff4500"/>
<rect x="177" y="151" width="1" height="54" fill="#ff0000"/>
<rect x="176" y="178" width="3" height="25" fill="#ff0000"/>
<rect x="177" y="179" width="1" height="23" fill="#ff4500"/>
<rect x="181" y="152" width="1" height="51" fill="#32cd32"/>
<rect x="180" y="178" width="3" height="13" fill="#32cd32"/>
<rect x="185" y="163" width="1" height="35" fill="#ff0000"/>
<rect x="184" y="172" width="3" height="19" fill="#ff0000"/>
<rect x="185" y="173" width="1" height="17" fill="#ff4500"/>
<rect x="189" y="170" width="1" height="33" fill="#32cd32"/>
<rect x="188" y="172" width="3" height="19" fill="#32cd32"/>
<rect x="193" y="186" width="1" height="50" fill="#32cd32"/>
<rect x="192" y="187" width="3" height="36" fill="#32cd32"/>
<rect x="197" y="195" width="1" height="32" fill="#ff0000"/>
<rect x="196" y="204" width="3" height="18" fill="#ff0000"/>
<rect x="197" y="205" width="1" height="16" fill="#ff4500"/>
<rect x="201" y="172" width="1" height="37" fill="#ff0000"/>
<rect x="200" y="196" width="3" height="8" fill="#ff0000"/>
<rect x="201" y="197" width="1" height="6" fill="#ff4500"/>
<rect x="205" y="176" width="1" height="27" fill="#ff0000"/>
<rect x="204" y="179" width="3" height="17" fill="#ff0000"/>
<rect x="205" y="180" width="1" height="15" fill="#ff4500"/>
<rect x="209" y="159" width="1" height="70" fill="#32cd32"/>
<rect x="208" y="179" width="3" height="37" fill="#32cd32"/>
<rect x="213" y="202" width="1" height="18" fill="#ff0000"/>
<rect x="212" y="213" width="3" height="3" fill="#ff0000"/>
<rect x="213" y="214" width="1" height="1" fill="#ff4500"/>
<rect x="217" y="212" width="1" height="30" fill="#32cd32"/>
<rect x="216" y="215" width="3" height="11" fill="#32cd32"/>
<rect x="221" y="205" width="1" height="27" fill="#ff0000"/>
<rect x="220" y="216" width="3" height="11" fill="#ff0000"/>
<rect x="221" y="217" width="1" height="9" fill="#ff4500"/>
<rect x="225" y="184" width="1" height="42" fill="#ff0000"/>
<rect x="224" y="193" width="3" height="23" fill="#ff0000"/>
<rect x="225" y="194" width="1" height="21" fill="#ff4500"/>
<rect x="229" y="172" width="1" height="26" fill="#ff0000"/>
<rect x="228" y="182" width="3" height="11" fill="#ff0000"/>
<rect x="229" y="183" width="1" height="9" fill="#ff4500"/>
<rect x="233" y="178" width="1" height="39" fill="#32cd32"/>
<rect x="232" y="182" width="3" height="24" fill="#32cd32"/>
<rect x="237" y="202" width="1" height="10" fill="#32cd32"/>
<rect x="236" y="205" width="3" height="3" fill="#32cd32"/>
<rect x="241" y="191" width="1" height="26" fill="#32cd32"/>
<rect x="240" y="213" width="3" height="3" fill="#32cd32"/>
<rect x="245" y="188" width="1" height="48" fill="#ff0000"/>
<rect x="244" y="192" width="3" height="24" fill="#ff0000"/>
<rect x="245" y="193" width="1" height="22" fill="#ff4500"/>
<rect x="249" y="182" width="1" height="68" fill="#32cd32"/>
<rect x="248" y="192" width="3" height="33" fill="#32cd32"/>
<rect x="253" y="217" width="1" height="62" fill="#32cd32"/>
<rect x="252" y="225" width="3" height="11" fill="#32cd32"/>
<rect x="257" y="216" width="1" height="39" fill="#ff0000"/>
<rect x="256" y="233" width="3" height="3" fill="#ff0000"/>
<rect x="257" y="234" width="1" height="1" fill="#ff4500"/>
<rect x="261" y="232" width="1" height="25" fill="#32cd32"/>
<rect x="260" y="233" width="3" height="19" fill="#32cd32"/>
<rect x="265" y="239" width="1" height="32" fill="#32cd32"/>
<rect x="264" y="259" width="3" height="5" fill="#32cd32"/>
<rect x="269" y="239" width="1" height="55" fill="#32cd32"/>
<rect x="268" y="263" width="3" height="24" fill="#32cd32"/>
<rect x="273" y="259" width="1" height="29" fill="#ff0000"/>
<rect x="272" y="266" width="3" height="21" fill="#ff0000"/>
<rect x="273" y="267" width="1" height="19" fill="#ff4500"/>
<rect x="277" y="247" width="1" height="34" fill="#32cd32"/>
<rect x="276" y="266" width="3" height="9" fill="#32cd32"/>
<rect x="281" y="241" width="1" height="43" fill="#ff0000"/>
<rect x="280" y="241" width="3" height="34" fill="#ff0000"/>
<rect x="281" y="242" width="1" height="32" fill="#ff4500"/>
<rect x="285" y="234" width="1" height="11" fill="#ff0000"/>
<rect x="284" y="236" width="3" height="5" fill="#ff0000"/>
<rect x="285" y="237" width="1" height="3" fill="#ff4500"/>
<rect x="289" y="209" width="1" height="37" fill="#ff0000"/>
<rect x="288" y="212" width="3" height="23" fill="#ff0000"/>
<rect x="289" y="213" width="1" height="21" fill="#ff4500"/>
<rect x="293" y="197" width="1" height="25" fill="#ff0000"/>
<rect x="292" y="204" width="3" height="9" fill="#ff0000"/>
<rect x="293" y="205" width="1" height="7" fill="#ff4500"/>
<rect x="297" y="186" width="1" height="26" fill="#ff0000"/>
<rect x="296" y="199" width="3" height="6" fill="#ff0000"/>
<rect x="297" y="200" width="1" height="4" fill="#ff4500"/>
<rect x="301" y="178" width="1" height="34" fill="#ff0000"/>
<rect x="300" y="184" width="3" height="16" fill="#ff0000"/>
<rect x="301" y="185" width="1" height="14" fill="#ff4500"/>
<rect x="305" y="183" width="1" height="24" fill="#32cd32"/>
<rect x="304" y="184" width="3" height="6" fill="#32cd32"/>
<rect x="309" y="182" width="1" height="11" fill="#ff0000"/>
<rect x="308" y="187" width="3" height="4" fill="#ff0000"/>
<rect x="309" y="188" width="1" height="2" fill="#ff4500"/>
<rect x="313" y="169" width="1" height="17" fill="#ff0000"/>
<rect x="312" y="171" width="3" height="15" fill="#ff0000"/>
<rect x="313" y="172" width="1" height="13" fill="#ff4500"/>
<rect x="317" y="159" width="1" height="35" fill="#32cd32"/>
<rect x="316" y="171" width="3" height="7" fill="#32cd32"/>
<rect x="321" y="174" width="1" height="31" fill="#32cd32"/>
<rect x="320" y="176" width="3" height="23" fill="#32cd32"/>
<rect x="325" y="168" width="1" height="39" fill="#ff0000"/>
<rect x="324" y="195" width="3" height="4" fill="#ff0000"/>
<rect x="325" y="196" width="1" height="2" fill="#ff4500"/>
<rect x="329" y="124" width="1" height="73" fill="#ff0000"/>
<rect x="328" y="127" width="3" height="69" fill="#ff0000"/>
<rect x="329" y="128" width="1" height="67" fill="#ff4500"/>
<rect x="333" y="119" width="1" height="12" fill="#ff0000"/>
<rect x="332" y="125" width="3" height="3" fill="#ff0000"/>
<rect x="333" y="126" width="1" height="1" fill="#ff4500"/>
<rect x="337" y="95" width="1" height="37" fill="#ff0000"/>
<rect x="336" y="103" width="3" height="19" fill="#ff0000"/>
<rect x="337" y="104" width="1" height="17" fill="#ff4500"/>
<rect x="341" y="87" width="1" height="31" fill="#ff0000"/>
<rect x="340" y="102" width="3" height="2" fill="#ff0000"/>
<rect x="345" y="81" width="1" height="29" fill="#ff0000"/>
<rect x="344" y="96" width="3" height="6" fill="#ff0000"/>
<rect x="345" y="97" width="1" height="4" fill="#ff4500"/>
<rect x="349" y="46" width="1" height="50" fill="#ff0000"/>
<rect x="348" y="74" width="3" height="22" fill="#ff0000"/>
<rect x="349" y="75" width="1" height="20" fill="#ff4500"/>
<rect x="353" y="71" width="1" height="130" fill="#32cd32"/>
<rect x="352" y="74" width="3" height="119" fill="#32cd32"/>
<rect x="357" y="188" width="1" height="27" fill="#32cd32"/>
<rect x="356" y="193" width="3" height="21" fill="#32cd32"/>
<rect x="361" y="170" width="1" height="43" fill="#ff0000"/>
<rect x="360" y="171" width="3" height="36" fill="#ff0000"/>
<rect x="361" y="172" width="1" height="34" fill="#ff4500"/>
<rect x="365" y="154" width="1" height="45" fill="#ff0000"/>
<rect x="364" y="154" width="3" height="19" fill="#ff0000"/>
<rect x="365" y="155" width="1" height="17" fill="#ff4500"/>
<rect x="369" y="141" width="1" height="38" fill="#32cd32"/>
<rect x="368" y="154" width="3" height="10" fill="#32cd32"/>
<rect x="373" y="154" width="1" height="35" fill="#ff0000"/>
<rect x="372" y="162" width="3" height="2" fill="#ff0000"/>
<rect x="377" y="155" width="1" height="107" fill="#32cd32"/>
<rect x="376" y="163" width="3" height="76" fill="#32cd32"/>
<rect x="381" y="222" width="1" height="24" fill="#ff0000"/>
<rect x="380" y="224" width="3" height="15" fill="#ff0000"/>
<rect x="381" y="225" width="1" height="13" fill="#ff4500"/>
<rect x="385" y="205" width="1" height="49" fill="#32cd32"/>
<rect x="384" y="220" width="3" height="17" fill="#32cd32"/>
<rect x="389" y="207" width="1" height="56" fill="#ff0000"/>
<rect x="388" y="219" width="3" height="18" fill="#ff0000"/>
<rect x="389" y="220" width="1" height="16" fill="#ff4500"/>
<rect x="393" y="192" width="1" height="44" fill="#ff0000"/>
<rect x="392" y="211" width="3" height="9" fill="#ff0000"/>
<rect x="393" y="212" width="1" height="7" fill="#ff4500"/>
<rect x="397" y="171" width="1" height="45" fill="#ff0000"/>
<rect x="396" y="180" width="3" height="31" fill="#ff0000"/>
<rect x="397" y="181" width="1" height="29" fill="#ff4500"/>
<rect x="401" y="162" width="1" height="43" fill="#32cd32"/>
<rect x="400" y="181" width="3" height="11" fill="#32cd32"/>
<rect x="405" y="176" width="1" height="18" fill="#ff0000"/>
<rect x="404" y="186" width="3" height="6" fill="#ff0000"/>
<rect x="405" y="187" width="1" height="4" fill="#ff4500"/>
<rect x="409" y="176" width="1" height="39" fill="#32cd32"/>
<rect x="408" y="188" width="3" height="15" fill="#32cd32"/>
<rect x="413" y="184" width="1" height="29" fill="#ff0000"/>
<rect x="412" y="192" width="3" height="11" fill="#ff0000"/>
<rect x="413" y="193" width="1" height="9" fill="#ff4500"/>
<rect x="417" y="186" width="1" height="30" fill="#32cd32"/>
<rect x="416" y="192" width="3" height="22" fill="#32cd32"/>
<rect x="421" y="134" width="1" height="85" fill="#ff0000"/>
<rect x="420" y="165" width="3" height="49" fill="#ff0000"/>
<rect x="421" y="166" width="1" height="47" fill="#ff4500"/>
<rect x="425" y="160" width="1" height="49" fill="#32cd32"/>
<rect x="424" y="165" width="3" height="29" fill="#32cd32"/>
<rect x="429" y="186" width="1" height="8" fill="#ff0000"/>
<rect x="428" y="191" width="3" height="3" fill="#ff0000"/>
<rect x="429" y="192" width="1" height="1" fill="#ff4500"/>
<rect x="433" y="187" width="1" height="29" fill="#ff0000"/>
<rect x="432" y="190" width="3" height="16" fill="#ff0000"/>
<rect x="433" y="191" width="1" height="14" fill="#ff4500"/>
<rect x="437" y="186" width="1" height="57" fill="#32cd32"/>
<rect x="436" y="190" width="3" height="39" fill="#32cd32"/>
<rect x="441" y="228" width="1" height="56" fill="#32cd32"/>
<rect x="440" y="228" width="3" height="34" fill="#32cd32"/>
<rect x="445" y="258" width="1" height="37" fill="#32cd32"/>
<rect x="444" y="261" width="3" height="30" fill="#32cd32"/>
<rect x="449" y="252" width="1" height="38" fill="#ff0000"/>
<rect x="448" y="258" width="3" height="32" fill="#ff0000"/>
<rect x="449" y="259" width="1" height="30" fill="#ff4500"/>
<rect x="453" y="254" width="1" height="12" fill="#32cd32"/>
<rect x="452" y="258" width="3" height="4" fill="#32cd32"/>
<rect x="457" y="242" width="1" height="24" fill="#ff0000"/>
<rect x="456" y="249" width="3" height="4" fill="#ff0000"/>
<rect x="457" y="250" width="1" height="2" fill="#ff4500"/>
<rect x="461" y="238" width="1" height="39" fill="#32cd32"/>
<rect x="460" y="250" width="3" height="20" fill="#32cd32"/>
<rect x="465" y="253" width="1" height="30" fill="#ff0000"/>
<rect x="464" y="267" width="3" height="4" fill="#ff0000"/>
<rect x="465" y="268" width="1" height="2" fill="#ff4500"/>
<rect x="469" y="262" width="1" height="50" fill="#32cd32"/>
<rect x="468" y="267" width="3" height="5" fill="#32cd32"/>
<rect x="473" y="262" width="1" height="11" fill="#ff0000"/>
<rect x="472" y="264" width="3" height="9" fill="#ff0000"/>
<rect x="473" y="265" width="1" height="7" fill="#ff4500"/>
<rect x="477" y="272" width="1" height="5" fill="#32cd32"/>
<rect x="476" y="273" width="3" height="2" fill="#32cd32"/>
<rect x="481" y="240" width="1" height="36" fill="#ff0000"/>
<rect x="480" y="242" width="3" height="25" fill="#ff0000"/>
<rect x="481" y="243" width="1" height="23" fill="#ff4500"/>
<rect x="485" y="239" width="1" height="32" fill="#ff0000"/>
<rect x="484" y="240" width="3" height="3" fill="#ff0000"/>
<rect x="485" y="241" width="1" height="1" fill="#ff4500"/>
<rect x="489" y="231" width="1" height="37" fill="#32cd32"/>
<rect x="488" y="240" width="3" height="20" fill="#32cd32"/>
<rect x="493" y="246" width="1" height="28" fill="#ff0000"/>
<rect x="492" y="252" width="3" height="8" fill="#ff0000"/>
<rect x="493" y="253" width="1" height="6" fill="#ff4500"/>
<rect x="497" y="239" width="1" height="42" fill="#32cd32"/>
<rect x="496" y="251" width="3" height="6" fill="#32cd32"/>
<rect x="501" y="256" width="1" height="6" fill="#32cd32"/>
<rect x="500" y="256" width="3" height="4" fill="#32cd32"/>
<rect x="505" y="254" width="1" height="23" fill="#32cd32"/>
<rect x="504" y="261" width="3" height="3" fill="#32cd32"/>
<rect x="509" y="256" width="1" height="27" fill="#ff0000"/>
<rect x="508" y="258" width="3" height="6" fill="#ff0000"/>
<rect x="509" y="259" width="1" height="4" fill="#ff4500"/>
<rect x="513" y="200" width="1" height="58" fill="#ff0000"/>
<rect x="512" y="201" width="3" height="57" fill="#ff0000"/>
<rect x="513" y="202" width="1" height="55" fill="#ff4500"/>
<rect x="517" y="184" width="1" height="31" fill="#ff0000"/>
<rect x="516" y="193" width="3" height="8" fill="#ff0000"/>
<rect x="517" y="194" width="1" height="6" fill="#ff4500"/>
<rect x="521" y="185" width="1" height="20" fill="#32cd32"/>
<rect x="520" y="192" width="3" height="8" fill="#32cd32"/>
<rect x="525" y="198" width="1" height="3" fill="#32cd32"/>
<rect x="524" y="200" width="3" height="1" fill="#32cd32"/>
<rect x="529" y="178" width="1" height="37" fill="#ff0000"/>
<rect x="528" y="185" width="3" height="21" fill="#ff0000"/>
<rect x="529" y="186" width="1" height="19" fill="#ff4500"/>
<rect x="533" y="178" width="1" height="24" fill="#32cd32"/>
<rect x="532" y="185" width="3" height="11" fill="#32cd32"/>
<rect x="537" y="183" width="1" height="36" fill="#ff0000"/>
<rect x="536" y="187" width="3" height="9" fill="#ff0000"/>
<rect x="537" y="188" width="1" height="7" fill="#ff4500"/>
<rect x="541" y="182" width="1" height="31" fill="#32cd32"/>
<rect x="540" y="187" width="3" height="18" fill="#32cd32"/>
<rect x="545" y="192" width="1" height="32" fill="#ff0000"/>
<rect x="544" y="197" width="3" height="8" fill="#ff0000"/>
<rect x="545" y="198" width="1" height="6" fill="#ff4500"/>
<rect x="549" y="184" width="1" height="16" fill="#ff0000"/>
<rect x="548" y="186" width="3" height="12" fill="#ff0000"/>
<rect x="549" y="187" width="1" height="10" fill="#ff4500"/>
<rect x="553" y="153" width="1" height="42" fill="#ff0000"/>
<rect x="552" y="161" width="3" height="31" fill="#ff0000"/>
<rect x="553" y="162" width="1" height="29" fill="#ff4500"/>
<rect x="557" y="158" width="1" height="25" fill="#32cd32"/>
<rect x="556" y="161" width="3" height="15" fill="#32cd32"/>
<rect x="561" y="176" width="1" height="29" fill="#32cd32"/>
<rect x="560" y="176" width="3" height="4" fill="#32cd32"/>
<rect x="565" y="152" width="1" height="37" fill="#32cd32"/>
<rect x="564" y="180" width="3" height="6" fill="#32cd32"/>
<rect x="569" y="171" width="1" height="45" fill="#32cd32"/>
<rect x="568" y="185" width="3" height="25" fill="#32cd32"/>
<rect x="573" y="209" width="1" height="8" fill="#32cd32"/>
<rect x="572" y="209" width="3" height="8" fill="#32cd32"/>
<rect x="577" y="181" width="1" height="34" fill="#ff0000"/>
<rect x="576" y="186" width="3" height="24" fill="#ff0000"/>
<rect x="577" y="187" width="1" height="22" fill="#ff4500"/>
<rect x="581" y="180" width="1" height="53" fill="#32cd32"/>
<rect x="580" y="186" width="3" height="39" fill="#32cd32"/>
<rect x="585" y="187" width="1" height="40" fill="#ff0000"/>
<rect x="584" y="191" width="3" height="34" fill="#ff0000"/>
<rect x="585" y="192" width="1" height="32" fill="#ff4500"/>
<rect x="589" y="176" width="1" height="42" fill="#ff0000"/>
<rect x="588" y="180" width="3" height="12" fill="#ff0000"/>
<rect x="589" y="181" width="1" height="10" fill="#ff4500"/>
<rect x="593" y="127" width="1" height="58" fill="#ff0000"/>
<rect x="592" y="128" width="3" height="54" fill="#ff0000"/>
<rect x="593" y="129" width="1" height="52" fill="#ff4500"/>
<rect x="597" y="128" width="1" height="14" fill="#32cd32"/>
<rect x="596" y="128" width="3" height="8" fill="#32cd32"/>
<rect x="601" y="111" width="1" height="31" fill="#ff0000"/>
<rect x="600" y="120" width="3" height="12" fill="#ff0000"/>
<rect x="601" y="121" width="1" height="10" fill="#ff4500"/>
<rect x="605" y="120" width="1" height="31" fill="#32cd32"/>
<rect x="604" y="120" width="3" height="19" fill="#32cd32"/>
<rect x="609" y="135" width="1" height="66" fill="#32cd32"/>
<rect x="608" y="138" width="3" height="62" fill="#32cd32"/>
<rect x="613" y="192" width="1" height="33" fill="#32cd32"/>
<rect x="612" y="199" width="3" height="7" fill="#32cd32"/>
<rect x="617" y="172" width="1" height="43" fill="#ff0000"/>
<rect x="616" y="175" width="3" height="31" fill="#ff0000"/>
<rect x="617" y="176" width="1" height="29" fill="#ff4500"/>
<rect x="621" y="169" width="1" height="7" fill="#ff0000"/>
<rect x="620" y="169" width="3" height="7" fill="#ff0000"/>
<rect x="621" y="170" width="1" height="5" fill="#ff4500"/>
<rect x="625" y="171" width="1" height="31" fill="#32cd32"/>
<rect x="624" y="174" width="3" height="8" fill="#32cd32"/>
<rect x="629" y="154" width="1" height="31" fill="#ff0000"/>
<rect x="628" y="173" width="3" height="9" fill="#ff0000"/>
<rect x="629" y="174" width="1" height="7" fill="#ff4500"/>
<rect x="633" y="159" width="1" height="40" fill="#32cd32"/>
<rect x="632" y="172" width="3" height="17" fill="#32cd32"/>
<rect x="637" y="172" width="1" height="41" fill="#ff0000"/>
<rect x="636" y="174" width="3" height="15" fill="#ff0000"/>
<rect x="637" y="175" width="1" height="13" fill="#ff4500"/>
<rect x="641" y="172" width="1" height="31" fill="#32cd32"/>
<rect x="640" y="174" width="3" height="28" fill="#32cd32"/>
<rect x="645" y="198" width="1" height="10" fill="#ff0000"/>
<rect x="644" y="200" width="3" height="2" fill="#ff0000"/>
<rect x="649" y="187" width="1" height="28" fill="#ff0000"/>
<rect x="648" y="195" width="3" height="9" fill="#ff0000"/>
<rect x="649" y="196" width="1" height="7" fill="#ff4500"/>
<rect x="653" y="175" width="1" height="24" fill="#ff0000"/>
<rect x="652" y="195" width="3" height="2" fill="#ff0000"/>
<rect x="657" y="164" width="1" height="37" fill="#ff0000"/>
<rect x="656" y="194" width="3" height="2" fill="#ff0000"/>
<rect x="661" y="186" width="1" height="20" fill="#32cd32"/>
<rect x="660" y="194" width="3" height="5" fill="#32cd32"/>
<rect x="665" y="191" width="1" height="40" fill="#32cd32"/>
<rect x="664" y="198" width="3" height="18" fill="#32cd32"/>
<rect x="669" y="209" width="1" height="7" fill="#ff0000"/>
<rect x="668" y="213" width="3" height="3" fill="#ff0000"/>
<rect x="669" y="214" width="1" height="1" fill="#ff4500"/>
<rect x="673" y="195" width="1" height="23" fill="#ff0000"/>
<rect x="672" y="195" width="3" height="17" fill="#ff0000"/>
<rect x="673" y="196" width="1" height="15" fill="#ff4500"/>
<rect x="677" y="179" width="1" height="22" fill="#ff0000"/>
<rect x="676" y="182" width="3" height="14" fill="#ff0000"/>
<rect x="677" y="183" width="1" height="12" fill="#ff4500"/>
<rect x="681" y="177" width="1" height="33" fill="#32cd32"/>
<rect x="680" y="182" width="3" height="8" fill="#32cd32"/>
<rect x="685" y="186" width="1" height="60" fill="#32cd32"/>
<rect x="684" y="189" width="3" height="57" fill="#32cd32"/>
<rect x="689" y="193" width="1" height="56" fill="#ff0000"/>
<rect x="688" y="193" width="3" height="53" fill="#ff0000"/>
<rect x="689" y="194" width="1" height="51" fill="#ff4500"/>
<rect x="693" y="193" width="1" height="5" fill="#ff0000"/>
<rect x="692" y="194" width="3" height="1" fill="#ff0000"/>
<rect x="697" y="181" width="1" height="23" fill="#ff0000"/>
<rect x="696" y="182" width="3" height="14" fill="#ff0000"/>
<rect x="697" y="183" width="1" height="12" fill="#ff4500"/>
<rect x="701" y="181" width="1" height="19" fill="#32cd32"/>
<rect x="700" y="182" width="3" height="13" fill="#32cd32"/>
<rect x="705" y="183" width="1" height="22" fill="#32cd32"/>
<rect x="704" y="195" width="3" height="7" fill="#32cd32"/>
<rect x="709" y="182" width="1" height="27" fill="#ff0000"/>
<rect x="708" y="189" width="3" height="13" fill="#ff0000"/>
<rect x="709" y="190" width="1" height="11" fill="#ff4500"/>
<rect x="713" y="175" width="1" height="49" fill="#32cd32"/>
<rect x="712" y="189" width="3" height="32" fill="#32cd32"/>
<rect x="717" y="216" width="1" height="9" fill="#ff0000"/>
<rect x="716" y="216" width="3" height="5" fill="#ff0000"/>
<rect x="717" y="217" width="1" height="3" fill="#ff4500"/>
<rect x="721" y="203" width="1" height="19" fill="#ff0000"/>
<rect x="720" y="208" width="3" height="6" fill="#ff0000"/>
<rect x="721" y="209" width="1" height="4" fill="#ff4500"/>
<rect x="725" y="208" width="1" height="25" fill="#32cd32"/>
<rect x="724" y="208" width="3" height="24" fill="#32cd32"/>
<rect x="729" y="209" width="1" height="24" fill="#ff0000"/>
<rect x="728" y="212" width="3" height="20" fill="#ff0000"/>
<rect x="729" y="213" width="1" height="18" fill="#ff4500"/>
<rect x="733" y="210" width="1" height="92" fill="#32cd32"/>
<rect x="732" y="210" width="3" height="90" fill="#32cd32"/>
<rect x="737" y="295" width="1" height="47" fill="#32cd32"/>
<rect x="736" y="299" width="3" height="32" fill="#32cd32"/>
<rect x="741" y="323" width="1" height="12" fill="#ff0000"/>
<rect x="740" y="330" width="3" height="1" fill="#ff0000"/>
<rect x="745" y="309" width="1" height="34" fill="#ff0000"/>
<rect x="744" y="314" width="3" height="16" fill="#ff0000"/>
<rect x="745" y="315" width="1" height="14" fill="#ff4500"/>
<rect x="749" y="304" width="1" height="30" fill="#32cd32"/>
<rect x="748" y="314" width="3" height="1" fill="#32cd32"/>
<rect x="753" y="274" width="1" height="42" fill="#ff0000"/>
<rect x="752" y="280" width="3" height="35" fill="#ff0000"/>
<rect x="753" y="281" width="1" height="33" fill="#ff4500"/>
<rect x="757" y="278" width="1" height="16" fill="#32cd32"/>
<rect x="756" y="280" width="3" height="9" fill="#32cd32"/>
<rect x="761" y="265" width="1" height="24" fill="#ff0000"/>
<rect x="760" y="276" width="3" height="13" fill="#ff0000"/>
<rect x="761" y="277" width="1" height="11" fill="#ff4500"/>
<rect x="765" y="276" width="1" height="8" fill="#32cd32"/>
<rect x="764" y="276" width="3" height="6" fill="#32cd32"/>
<rect x="769" y="273" width="1" height="27" fill="#32cd32"/>
<rect x="768" y="281" width="3" height="8" fill="#32cd32"/>
<rect x="773" y="288" width="1" height="38" fill="#32cd32"/>
<rect x="772" y="288" width="3" height="33" fill="#32cd32"/>
<rect x="777" y="314" width="1" height="21" fill="#32cd32"/>
<rect x="776" y="320" width="3" height="13" fill="#32cd32"/>
<rect x="781" y="325" width="1" height="27" fill="#32cd32"/>
<rect x="780" y="332" width="3" height="14" fill="#32cd32"/>
<rect x="785" y="329" width="1" height="32" fill="#ff0000"/>
<rect x="784" y="331" width="3" height="15" fill="#ff0000"/>
<rect x="785" y="332" width="1" height="13" fill="#ff4500"/>
<rect x="789" y="310" width="1" height="24" fill="#ff0000"/>
<rect x="788" y="313" width="3" height="19" fill="#ff0000"/>
<rect x="789" y="314" width="1" height="17" fill="#ff4500"/>
<rect x="793" y="310" width="1" height="15" fill="#ff0000"/>
<rect x="792" y="312" width="3" height="7" fill="#ff0000"/>
<rect x="793" y="313" width="1" height="5" fill="#ff4500"/>
<rect x="797" y="274" width="1" height="63" fill="#32cd32"/>
<rect x="796" y="312" width="3" height="20" fill="#32cd32"/>
<rect x="801" y="310" width="1" height="41" fill="#32cd32"/>
<rect x="800" y="331" width="3" height="8" fill="#32cd32"/>
<rect x="805" y="326" width="1" height="51" fill="#32cd32"/>
<rect x="804" y="338" width="3" height="28" fill="#32cd32"/>
<rect x="809" y="336" width="1" height="45" fill="#ff0000"/>
<rect x="808" y="341" width="3" height="25" fill="#ff0000"/>
<rect x="809" y="342" width="1" height="23" fill="#ff4500"/>
<rect x="813" y="334" width="1" height="8" fill="#ff0000"/>
<rect x="812" y="335" width="3" height="7" fill="#ff0000"/>
<rect x="813" y="336" width="1" height="5" fill="#ff4500"/>
<rect x="817" y="332" width="1" height="27" fill="#ff0000"/>
<rect x="816" y="335" width="3" height="1" fill="#ff0000"/>
<rect x="821" y="328" width="1" height="43" fill="#32cd32"/>
<rect x="820" y="335" width="3" height="11" fill="#32cd32"/>
<rect x="825" y="337" width="1" height="32" fill="#32cd32"/>
<rect x="824" y="345" width="3" height="3" fill="#32cd32"/>
<rect x="829" y="336" width="1" height="32" fill="#32cd32"/>
<rect x="828" y="347" width="3" height="20" fill="#32cd32"/>
<rect x="833" y="361" width="1" height="26" fill="#32cd32"/>
<rect x="832" y="366" width="3" height="15" fill="#32cd32"/>
<rect x="837" y="376" width="1" height="10" fill="#32cd32"/>
<rect x="836" y="380" width="3" height="6" fill="#32cd32"/>
<rect x="841" y="388" width="1" height="38" fill="#32cd32"/>
<rect x="840" y="390" width="3" height="28" fill="#32cd32"/>
<rect x="845" y="409" width="1" height="33" fill="#32cd32"/>
<rect x="844" y="417" width="3" height="11" fill="#32cd32"/>
<rect x="849" y="408" width="1" height="40" fill="#ff0000"/>
<rect x="848" y="410" width="3" height="18" fill="#ff0000"/>
<rect x="849" y="411" width="1" height="16" fill="#ff4500"/>
<rect x="853" y="387" width="1" height="32" fill="#ff0000"/>
<rect x="852" y="406" width="3" height="5" fill="#ff0000"/>
<rect x="853" y="407" width="1" height="3" fill="#ff4500"/>
<rect x="857" y="391" width="1" height="19" fill="#32cd32"/>
<rect x="856" y="406" width="3" height="1" fill="#32cd32"/>
<rect x="861" y="400" width="1" height="7" fill="#ff0000"/>
<rect x="860" y="405" width="3" height="2" fill="#ff0000"/>
<rect x="865" y="391" width="1" height="34" fill="#ff0000"/>
<rect x="864" y="393" width="3" height="12" fill="#ff0000"/>
<rect x="865" y="394" width="1" height="10" fill="#ff4500"/>
<rect x="869" y="392" width="1" height="29" fill="#32cd32"/>
<rect x="868" y="393" width="3" height="11" fill="#32cd32"/>
<rect x="873" y="399" width="1" height="30" fill="#32cd32"/>
<rect x="872" y="403" width="3" height="13" fill="#32cd32"/>
<rect x="877" y="378" width="1" height="54" fill="#ff0000"/>
<rect x="876" y="385" width="3" height="30" fill="#ff0000"/>
<rect x="877" y="386" width="1" height="28" fill="#ff4500"/>
<rect x="881" y="383" width="1" height="34" fill="#32cd32"/>
<rect x="880" y="383" width="3" height="31" fill="#32cd32"/>
<rect x="885" y="413" width="1" height="12" fill="#32cd32"/>
<rect x="884" y="413" width="3" height="10" fill="#32cd32"/>
<rect x="889" y="395" width="1" height="31" fill="#ff0000"/>
<rect x="888" y="405" width="3" height="13" fill="#ff0000"/>
<rect x="889" y="406" width="1" height="11" fill="#ff4500"/>
<rect x="893" y="381" width="1" height="30" fill="#ff0000"/>
<rect x="892" y="394" width="3" height="14" fill="#ff0000"/>
<rect x="893" y="395" width="1" height="12" fill="#ff4500"/>
<rect x="897" y="370" width="1" height="33" fill="#32cd32"/>
<rect x="896" y="394" width="3" height="4" fill="#32cd32"/>
<rect x="901" y="376" width="1" height="24" fill="#ff0000"/>
<rect x="900" y="380" width="3" height="18" fill="#ff0000"/>
<rect x="901" y="381" width="1" height="16" fill="#ff4500"/>
<rect x="905" y="380" width="1" height="36" fill="#32cd32"/>
<rect x="904" y="380" width="3" height="31" fill="#32cd32"/>
<rect x="909" y="408" width="1" height="6" fill="#32cd32"/>
<rect x="908" y="410" width="3" height="4" fill="#32cd32"/>
<rect x="913" y="405" width="1" height="21" fill="#ff0000"/>
<rect x="912" y="419" width="3" height="1" fill="#ff0000"/>
<rect x="917" y="410" width="1" height="23" fill="#ff0000"/>
<rect x="916" y="416" width="3" height="4" fill="#ff0000"/>
<rect x="917" y="417" width="1" height="2" fill="#ff4500"/>
<rect x="921" y="393" width="1" height="36" fill="#ff0000"/>
<rect x="920" y="400" width="3" height="17" fill="#ff0000"/>
<rect x="921" y="401" width="1" height="15" fill="#ff4500"/>
<rect x="925" y="391" width="1" height="12" fill="#ff0000"/>
<rect x="924" y="399" width="3" height="2" fill="#ff0000"/>
<rect x="4" y="381" width="6" height="6" fill="#00ff00"/><rect x="6" y="383" width="2" height="2" fill="#fff"/>
<rect x="1161" y="381" width="6" height="6" fill="#00ff00"/><rect x="1163" y="383" width="2" height="2" fill="#fff"/>
<rect x="4" y="471" width="6" height="6" fill="#0000ff"/><rect x="6" y="473" width="2" height="2" fill="#fff"/>
<rect x="1161" y="471" width="6" height="6" fill="#0000ff"/><rect x="1163" y="473" width="2" height="2" fill="#fff"/>
<path transform="translate(0,.5)" d="M192 493h8M188 494h4M200 494h8M128 495h20M184 495h4M208 495h4M124 496h4M148 496h4M180 496h4M212 496h3M120 497h4M152 497h4M176 497h4M215 497h2M117 498h3M156 498h8M168 498h8M217 498h2M115 499h2M164 499h4M219 499h2M108 500h7M221 500h2M104 501h4M223 501h2M100 502h4M225 502h3M96 503h4M228 503h3M92 504h4M231 504h2M80 505h12M233 505h2M72 506h8M235 506h2M68 507h4M237 507h2M56 508h12M239 508h2M44 509h12M241 509h3M356 509h12M36 510h8M244 510h3M352 510h4M368 510h4M24 511h12M247 511h2M349 511h3M372 511h3M20 512h4M249 512h3M348 512h1M375 512h2M16 513h4M252 513h3M346 513h2M377 513h1M13 514h3M255 514h2M345 514h1M378 514h2M11 515h2M257 515h2M343 515h2M380 515h1M9 516h2M259 516h2M341 516h2M381 516h1M8 517h1M261 517h2M339 517h2M382 517h1M6 518h2M263 518h2M337 518h2M383 518h1M5 519h1M265 519h1M335 519h2M384 519h1M624 519h4M266 520h2M333 520h2M385 520h1M612 520h12M628 520h4M268 521h1M331 521h2M386 521h1M564 521h16M604 521h8M632 521h4M269 522h2M329 522h2M387 522h1M560 522h4M580 522h8M600 522h4M636 522h3M271 523h2M327 523h2M388 523h1M557 523h3M588 523h12M639 523h2M273 524h1M324 524h3M389 524h2M555 524h2M641 524h3M274 525h2M321 525h3M391 525h2M553 525h2M644 525h4M276 526h1M319 526h2M393 526h1M551 526h2M648 526h4M277 527h1M317 527h2M394 527h2M549 527h2M652 527h4M278 528h2M315 528h2M396 528h1M547 528h2M656 528h4M280 529h1M313 529h2M397 529h2M545 529h2M660 529h3M281 530h2M311 530h2M399 530h2M543 530h2M663 530h2M283 531h2M309 531h2M401 531h2M541 531h2M665 531h3M285 532h3M307 532h2M403 532h2M539 532h2M668 532h4M288 533h4M304 533h3M405 533h2M537 533h2M672 533h4M292 534h12M407 534h2M536 534h1M676 534h8M409 535h3M428 535h12M534 535h2M684 535h8M708 535h8M720 535h4M412 536h16M440 536h4M533 536h1M692 536h16M716 536h4M724 536h8M444 537h4M531 537h2M732 537h3M448 538h3M529 538h2M735 538h2M451 539h2M527 539h2M737 539h2M453 540h2M525 540h2M739 540h2M455 541h2M523 541h2M741 541h1M457 542h3M521 542h2M742 542h2M460 543h3M519 543h2M744 543h1M463 544h2M517 544h2M745 544h1M465 545h2M515 545h2M746 545h2M467 546h2M512 546h3M748 546h1M469 547h2M508 547h4M749 547h1M471 548h2M504 548h4M750 548h2M473 549h3M500 549h4M752 549h1M924 549h1M476 550h4M492 550h8M753 550h2M920 550h4M480 551h12M755 551h2M916 551h4M757 552h2M912 552h4M759 553h2M908 553h4M761 554h2M904 554h4M763 555h2M901 555h3M765 556h2M899 556h2M767 557h2M828 557h12M896 557h3M769 558h35M820 558h8M840 558h8M892 558h4M804 559h16M848 559h4M888 559h4M852 560h4M884 560h4M856 561h4M880 561h4M860 562h12M876 562h4M872 563h4" fill="none" stroke="#ff0000" stroke-width="1"/>
<path transform="translate(0,.5)" d="M117 591h2M116 592h1M119 592h2M124 592h2M114 593h2M121 593h3M125 593h1M113 594h1M126 594h1M349 594h1M111 595h2M126 595h1M161 595h1M177 595h1M347 595h3M96 596h15M126 596h1M159 596h2M162 596h1M176 596h1M178 596h1M344 596h3M349 596h1M93 597h3M127 597h1M157 597h2M163 597h1M174 597h2M179 597h1M185 597h1M337 597h7M349 597h1M92 598h1M127 598h1M156 598h1M163 598h1M173 598h1M180 598h1M183 598h2M186 598h1M336 598h1M350 598h1M69 599h2M91 599h1M128 599h1M155 599h1M164 599h1M172 599h1M181 599h2M187 599h1M334 599h2M350 599h1M9 600h1M49 600h2M68 600h1M71 600h2M76 600h6M90 600h1M128 600h1M155 600h1M165 600h3M170 600h2M188 600h1M329 600h5M350 600h1M8 601h1M10 601h2M17 601h1M48 601h1M51 601h2M67 601h1M73 601h3M82 601h1M89 601h1M128 601h1M154 601h1M168 601h2M189 601h1M329 601h1M350 601h1M7 602h1M12 602h1M15 602h3M46 602h2M53 602h1M67 602h1M83 602h1M88 602h1M129 602h1M140 602h6M153 602h1M190 602h1M205 602h1M328 602h1M350 602h1M7 603h1M13 603h2M18 603h1M44 603h2M54 603h2M66 603h1M83 603h1M87 603h1M129 603h1M137 603h3M146 603h1M152 603h1M190 603h1M204 603h2M328 603h1M350 603h1M553 603h1M593 603h2M601 603h1M6 604h1M18 604h1M37 604h7M56 604h1M65 604h1M84 604h1M86 604h1M130 604h1M136 604h1M147 604h1M151 604h1M191 604h1M202 604h2M206 604h1M313 604h2M327 604h1M351 604h1M552 604h1M554 604h1M592 604h1M595 604h2M599 604h2M602 604h1M5 605h1M19 605h1M36 605h1M57 605h2M64 605h1M85 605h1M130 605h1M136 605h1M148 605h1M150 605h1M191 605h1M200 605h2M206 605h1M229 605h1M311 605h2M315 605h2M327 605h1M351 605h1M529 605h1M551 605h1M555 605h1M592 605h1M597 605h2M603 605h1M19 606h1M25 606h5M36 606h1M59 606h2M62 606h2M131 606h1M135 606h1M149 606h1M192 606h1M197 606h3M207 606h1M227 606h2M230 606h1M301 606h3M308 606h3M317 606h1M327 606h1M351 606h1M517 606h2M528 606h1M530 606h2M550 606h1M556 606h1M591 606h1M604 606h1M20 607h1M24 607h1M30 607h1M35 607h1M61 607h1M132 607h1M134 607h1M192 607h1M195 607h2M207 607h1M225 607h2M231 607h1M299 607h2M304 607h4M318 607h1M326 607h1M351 607h1M515 607h2M519 607h2M526 607h2M532 607h1M536 607h2M549 607h1M557 607h3M591 607h1M605 607h1M20 608h1M23 608h1M31 608h1M34 608h1M132 608h1M134 608h1M193 608h2M208 608h1M224 608h1M231 608h1M245 608h1M296 608h3M319 608h1M326 608h1M351 608h1M513 608h2M521 608h5M533 608h3M538 608h1M548 608h1M560 608h3M590 608h1M605 608h1M21 609h2M32 609h1M34 609h1M133 609h1M208 609h1M222 609h2M232 609h1M244 609h1M246 609h1M292 609h4M319 609h1M325 609h1M351 609h1M513 609h1M539 609h1M546 609h2M563 609h2M590 609h1M606 609h1M21 610h1M33 610h1M209 610h6M221 610h1M233 610h3M243 610h1M246 610h1M289 610h3M320 610h1M324 610h2M352 610h1M512 610h1M540 610h1M544 610h2M565 610h1M577 610h1M589 610h1M606 610h1M215 611h2M219 611h2M236 611h4M242 611h1M247 611h1M288 611h1M321 611h3M352 611h1M421 611h1M512 611h1M541 611h3M566 611h1M576 611h2M587 611h2M607 611h1M217 612h2M240 612h2M247 612h1M287 612h1M352 612h1M365 612h3M420 612h1M422 612h1M512 612h1M566 612h1M576 612h1M578 612h1M585 612h2M607 612h1M620 612h3M248 613h1M286 613h1M352 613h1M363 613h2M368 613h6M420 613h1M423 613h1M511 613h1M567 613h1M575 613h1M578 613h1M584 613h1M607 613h1M617 613h3M623 613h2M628 613h2M637 613h1M677 613h2M697 613h2M248 614h1M284 614h2M352 614h1M361 614h2M373 614h1M397 614h3M419 614h1M423 614h1M511 614h1M568 614h1M575 614h1M579 614h1M584 614h1M608 614h1M616 614h1M625 614h3M630 614h2M636 614h1M638 614h1M676 614h1M679 614h2M695 614h2M699 614h2M709 614h1M249 615h2M281 615h3M352 615h1M360 615h1M374 615h1M396 615h1M400 615h7M413 615h1M419 615h1M424 615h1M428 615h6M510 615h1M568 615h1M574 615h1M579 615h1M583 615h1M608 615h1M615 615h1M632 615h1M634 615h2M639 615h1M674 615h2M681 615h1M689 615h6M701 615h3M707 615h2M710 615h1M901 615h1M251 616h2M256 616h2M280 616h1M353 616h1M360 616h1M374 616h1M395 616h1M407 616h2M411 616h2M414 616h1M418 616h1M425 616h3M434 616h1M484 616h2M510 616h1M569 616h3M574 616h1M580 616h1M582 616h1M609 616h1M615 616h1M633 616h1M639 616h1M656 616h4M673 616h1M681 616h1M689 616h1M704 616h3M710 616h1M900 616h1M902 616h1M253 617h3M258 617h1M280 617h1M353 617h1M359 617h1M375 617h1M394 617h1M409 617h2M415 617h1M418 617h1M434 617h1M481 617h3M486 617h1M510 617h1M572 617h2M580 617h1M582 617h1M609 617h3M614 617h1M640 617h1M644 617h12M660 617h2M672 617h1M682 617h1M688 617h1M711 617h1M721 617h1M729 617h1M899 617h1M902 617h1M259 618h1M279 618h1M353 618h2M358 618h1M375 618h1M392 618h2M416 618h2M435 618h1M480 618h1M487 618h1M493 618h3M509 618h1M581 618h1M612 618h2M641 618h3M662 618h1M671 618h1M682 618h1M688 618h1M712 618h1M719 618h2M722 618h1M728 618h2M899 618h1M903 618h1M921 618h4M260 619h1M279 619h1M355 619h2M358 619h1M375 619h1M389 619h3M417 619h1M436 619h1M480 619h1M488 619h1M491 619h2M496 619h8M508 619h2M663 619h1M670 619h1M683 619h1M687 619h1M712 619h1M716 619h3M723 619h1M727 619h1M730 619h1M893 619h3M898 619h1M903 619h1M920 619h1M261 620h2M278 620h1M357 620h1M376 620h1M388 620h1M436 620h1M457 620h1M479 620h1M489 620h2M504 620h4M664 620h1M668 620h2M683 620h1M687 620h1M713 620h3M724 620h1M726 620h1M730 620h1M761 620h3M877 620h1M892 620h1M896 620h2M904 620h1M919 620h1M263 621h2M273 621h3M278 621h1M376 621h1M381 621h3M386 621h2M437 621h1M455 621h2M458 621h2M473 621h2M478 621h1M665 621h3M683 621h1M687 621h1M725 621h1M730 621h1M753 621h2M760 621h1M764 621h4M877 621h2M890 621h2M904 621h1M918 621h1M265 622h1M272 622h1M276 622h2M377 622h1M379 622h2M384 622h2M438 622h1M449 622h6M460 622h1M464 622h4M471 622h2M475 622h2M478 622h1M684 622h1M686 622h1M731 622h1M752 622h1M755 622h2M758 622h2M768 622h2M789 622h5M813 622h6M876 622h1M879 622h1M889 622h1M905 622h7M916 622h2M266 623h2M271 623h1M377 623h2M439 623h1M448 623h1M461 623h3M468 623h3M477 623h1M684 623h1M686 623h1M731 623h1M752 623h1M757 623h1M770 623h1M788 623h1M794 623h2M811 623h2M819 623h2M876 623h1M879 623h1M888 623h1M912 623h4M268 624h1M270 624h1M440 624h1M448 624h1M685 624h1M731 624h1M751 624h1M771 624h1M787 624h1M796 624h1M809 624h2M821 624h3M875 624h1M880 624h1M887 624h1M269 625h1M441 625h1M447 625h1M685 625h1M732 625h1M751 625h1M772 625h1M786 625h1M797 625h3M808 625h1M824 625h2M865 625h2M875 625h1M881 625h2M887 625h1M442 626h2M446 626h1M732 626h1M750 626h1M773 626h2M785 626h1M800 626h2M808 626h1M826 626h2M864 626h1M867 626h2M874 626h1M883 626h2M886 626h1M444 627h1M446 627h1M732 627h1M750 627h1M775 627h2M784 627h1M802 627h1M807 627h1M828 627h1M863 627h1M869 627h2M874 627h1M885 627h1M445 628h1M733 628h1M745 628h5M777 628h2M783 628h1M803 628h1M806 628h1M829 628h2M862 628h1M871 628h3M733 629h1M744 629h1M779 629h2M782 629h1M804 629h1M806 629h1M831 629h2M852 629h10M873 629h1M734 630h2M742 630h2M781 630h1M805 630h1M833 630h5M849 630h3M736 631h1M740 631h2M838 631h1M848 631h1M737 632h3M839 632h1M848 632h1M839 633h1M847 633h1M840 634h1M846 634h1M841 635h3M846 635h1M844 636h2" fill="none" stroke="#1e90ff" stroke-width="1"/>
<!-- axis ticks -->
<g fill="#000" id="ticks">
<rect x="1168" y="51" width="2" height="1"/>
<rect x="1168" y="84" width="2" height="1"/>
<rect x="1168" y="117" width="2" height="1"/>
<rect x="1168" y="150" width="2" height="1"/>
<rect x="1168" y="183" width="2" height="1"/>
<rect x="1168" y="216" width="2" height="1"/>
<rect x="1168" y="249" width="2" height="1"/>
<rect x="1168" y="282" width="2" height="1"/>
<rect x="1168" y="315" width="2" height="1"/>
<rect x="1168" y="348" width="2" height="1"/>
<rect x="1168" y="381" width="2" height="1"/>
<rect x="1168" y="414" width="2" height="1"/>
<rect x="1168" y="447" width="2" height="1"/>
<rect x="1168" y="480" width="2" height="1"/>
<rect x="1168" y="532" width="2" height="1"/>
<rect x="5" y="659" width="1" height="3"/>
<rect x="69" y="659" width="1" height="3"/>
<rect x="133" y="659" width="1" height="3"/>
<rect x="197" y="659" width="1" height="3"/>
<rect x="261" y="659" width="1" height="3"/>
<rect x="325" y="659" width="1" height="3"/>
<rect x="389" y="659" width="1" height="3"/>
<rect x="453" y="659" width="1" height="3"/>
<rect x="517" y="659" width="1" height="3"/>
<rect x="581" y="659" width="1" height="3"/>
<rect x="645" y="659" width="1" height="3"/>
<rect x="709" y="659" width="1" height="3"/>
<rect x="773" y="659" width="1" height="3"/>
<rect x="837" y="659" width="1" height="3"/>
<rect x="901" y="659" width="1" height="3"/>
</g>
</g>
<g id="axistext">
<text x="1173" y="55">0.79975</text>
<text x="1173" y="88">0.79390</text>
<text x="1173" y="121">0.78790</text>
<text x="1173" y="154">0.78205</text>
<text x="1173" y="187">0.77605</text>
<text x="1173" y="220">0.77020</text>
<text x="1173" y="253">0.76435</text>
<text x="1173" y="286">0.75835</text>
<text x="1173" y="319">0.75250</text>
<text x="1173" y="352">0.74650</text>
<text x="1173" y="385">0.74065</text>
<text x="1173" y="418">0.73480</text>
<text x="1173" y="451">0.72880</text>
<text x="1173" y="484">0.72295</text>
<text x="1171" y="496">0.008903</text>
<text x="1171" y="536">0.00</text>
<text x="1171" y="566">-0.00697</text>
<text x="1171" y="582">100</text>
<text x="1171" y="602">70</text>
<text x="1171" y="636">30</text>
<text x="1171" y="655">0</text>
<rect x="1169" y="200" width="39" height="11" fill="#ff0000" shape-rendering="crispEdges"/>
<text x="1173" y="209" style="fill:#fff;stroke:#fff">0.77200</text>
<rect x="1169" y="283" width="39" height="11" fill="#ff0000" shape-rendering="crispEdges"/>
<text x="1173" y="292" style="fill:#fff;stroke:#fff">0.75716</text>
<rect x="1169" y="378" width="39" height="11" fill="#00ff00" shape-rendering="crispEdges"/>
<text x="1173" y="387" style="fill:#fff;stroke:#fff">0.74007</text>
<rect x="1169" y="394" width="39" height="11" fill="#000000" shape-rendering="crispEdges"/>
<text x="1173" y="403" style="fill:#fff;stroke:#fff">0.73744</text>
<rect x="1169" y="468" width="39" height="11" fill="#0000ff" shape-rendering="crispEdges"/>
<text x="1173" y="477" style="fill:#fff;stroke:#fff">0.72411</text>
<text x="4" y="671">14 Nov 2020</text>
<text x="68" y="671">3 Dec 2020</text>
<text x="132" y="671">22 Dec 2020</text>
<text x="196" y="671">12 Jan 2021</text>
<text x="260" y="671">30 Jan 2021</text>
<text x="324" y="671">18 Feb 2021</text>
<text x="388" y="671">9 Mar 2021</text>
<text x="452" y="671">27 Mar 2021</text>
<text x="516" y="671">15 Apr 2021</text>
<text x="580" y="671">4 May 2021</text>
<text x="644" y="671">22 May 2021</text>
<text x="708" y="671">10 Jun 2021</text>
<text x="772" y="671">29 Jun 2021</text>
<text x="836" y="671">17 Jul 2021</text>
<text x="900" y="671">5 Aug 2021</text>
</g>
<!-- titles -->
<g fill="#000" shape-rendering="crispEdges"><rect x="11" y="30" width="1" height="1"/><rect x="10" y="31" width="3" height="1"/><rect x="9" y="32" width="5" height="1"/><rect x="8" y="33" width="7" height="1"/></g>
<text x="20.3" y="35" style="letter-spacing:0.25px">AUDUSD,Daily</text><text x="92.2" y="35">0.73721</text><text x="128.1" y="35">0.73882</text><text x="164.0" y="35">0.73692</text><text x="199.89999999999998" y="35">0.73744</text><text x="9.2" y="498">MACD(12,26,9) -0.002441 -0.003121</text><text x="9.2" y="584">RSI(14) 46.6593</text>
</svg>

<!-- one click trading -->
<div class="abs" style="left:8px;top:43px;width:52px;height:25px;background:linear-gradient(#5a5aff,#2d2dee)"></div>
<div class="abs" style="left:8px;top:67px;width:109px;height:33px;background:linear-gradient(#2d2dee,#0a0ab4 75%,#0505aa)"></div>
<div class="abs" style="left:175px;top:43px;width:52px;height:25px;background:linear-gradient(#5a5aff,#2d2dee)"></div>
<div class="abs" style="left:119px;top:67px;width:108px;height:33px;background:linear-gradient(#2d2dee,#0a0ab4 75%,#0505aa)"></div>
<div class="abs" style="left:12px;top:67px;width:44px;height:1px;background:#8c8cff"></div>
<div class="abs" style="left:179px;top:67px;width:44px;height:1px;background:#8c8cff"></div>
<div class="obtn" style="left:20.3px;top:47px;font-size:12px;line-height:16px;transform:scaleX(0.87);transform-origin:0 0;">SELL</div>
<div class="obtn" style="left:188px;top:47px;font-size:12px;line-height:16px;transform:scaleX(0.96);transform-origin:0 0;">BUY</div>
<div class="obtn" style="left:27.8px;top:83px;font-size:12.2px;line-height:15px;font-weight:bold;">0.73</div>
<div class="obtn" style="left:138px;top:83px;font-size:12.2px;line-height:15px;font-weight:bold;">0.73</div>
<div class="obtn" style="left:55px;top:65px;font-size:33.5px;line-height:36px;transform:scaleX(0.96);transform-origin:0 0;">74</div>
<div class="obtn" style="left:166px;top:65px;font-size:33.5px;line-height:36px;transform:scaleX(0.96);transform-origin:0 0;">75</div>
<div class="obtn" style="left:94.5px;top:68px;font-size:12px;line-height:14px;font-weight:bold;">7</div>
<div class="obtn" style="left:206px;top:68px;font-size:12px;line-height:14px;font-weight:bold;">9</div>
<!-- spinner -->
<div class="abs" style="left:60px;top:43px;width:115px;height:24px;background:#fff"></div>
<div class="abs" style="left:62px;top:43px;width:111px;height:22px;background:#fff;border:1px solid #ababab;box-sizing:border-box;"></div>
<div class="abs" style="left:64px;top:45px;width:19px;height:18px;background:linear-gradient(#f0f0f0,#e2e2e2 50%,#d4d4d4 50%,#cdcdcd);"></div>
<div class="abs" style="left:83px;top:44px;width:1px;height:20px;background:#ababab;"></div>
<div class="abs" style="left:153px;top:45px;width:19px;height:18px;background:linear-gradient(#f0f0f0,#e2e2e2 50%,#d4d4d4 50%,#cdcdcd);"></div>
<div class="abs" style="left:152px;top:44px;width:1px;height:20px;background:#ababab;"></div>
<svg class="abs" style="left:0;top:0" width="240" height="110"><polygon points="70,52.3 75,52.3 72.5,55.3" fill="#4a5fb8"/><polygon points="159,55 164.2,55 161.6,52" fill="#4a5fb8"/></svg>
<div class="abs" style="left:100px;top:46.6px;width:48px;text-align:right;font-size:12.1px;line-height:14px;color:#000;">3.00</div>

<!-- bottom tabs -->
<div class="abs" style="left:0;top:679px;width:1208px;height:1px;background:#e3e3e3"></div>
<div class="abs" style="left:0;top:680px;width:1208px;height:1px;background:#f8f8f8"></div>
<div class="abs" style="left:0;top:681px;width:1208px;height:1px;background:#000"></div>
<div class="abs" style="left:0;top:682px;width:1208px;height:19px;background:#f0f0f0"></div>
<div class="abs" style="left:0;top:682px;width:1px;height:19px;background:#a0a0a0"></div>
<div class="abs" style="left:1px;top:682px;width:1px;height:19px;background:#696969"></div>
<div class="abs" style="left:2px;top:682px;width:1px;height:19px;background:#fafafa"></div>
<div class="abs" style="left:98px;top:681px;width:104px;height:19px;background:#fff;border:1px solid #000;border-top:none;box-sizing:border-box;"></div>
<div class="abs" style="left:0;top:701px;width:1208px;height:2px;background:#fafafa"></div>
<div class="abs" style="left:0;top:703px;width:1208px;height:2px;background:#f0f0f0"></div>
<div class="abs" style="left:0;top:705px;width:1208px;height:1px;background:#a9a9a9"></div>
<div class="abs" style="left:0;top:706px;width:1208px;height:3px;background:#fff"></div>
<div class="tab" style="left:8.7px;width:87.3px;text-align:center;">EURUSD,H4</div>
<div class="tab" style="left:99.7px;width:101.5px;text-align:center;color:#000;">AUDUSD,Daily</div>
<div class="tab" style="left:202.0px;width:86.0px;text-align:center;">USDCHF,H4</div>
<div class="tab" style="left:291.3px;width:100.3px;text-align:center;">USDCAD,Daily</div>
<div class="tab" style="left:394.4px;width:101.9px;text-align:center;">USDCNH,Daily</div>
<div class="tab" style="left:500.0px;width:71.4px;text-align:center;">UKOil,H1</div>
<div class="tab" style="left:574.3px;width:66.4px;text-align:center;">DJ30,H1</div>
<div class="tab" style="left:644.2px;width:71.2px;text-align:center;">USDX,H1</div>
<div class="tab" style="left:719.5px;width:88.2px;text-align:center;">XAUUSD,H1</div>
<div class="tab" style="left:812.4px;width:87.5px;text-align:center;">GBPUSD,H1</div>
<div class="sep" style="left:290px"></div>
<div class="sep" style="left:394px"></div>
<div class="sep" style="left:498px"></div>
<div class="sep" style="left:574px"></div>
<div class="sep" style="left:641px"></div>
<div class="sep" style="left:718px"></div>
<div class="sep" style="left:810px"></div>
<div class="sep" style="left:902px"></div>
<svg class="abs" style="left:1170px;top:682px" width="38" height="18"><polygon points="12.5,8.5 16,5 16,12" fill="#a0a0a0"/><polygon points="35,8.5 31.5,5 31.5,12" fill="#a0a0a0"/></svg>
</body></html>
